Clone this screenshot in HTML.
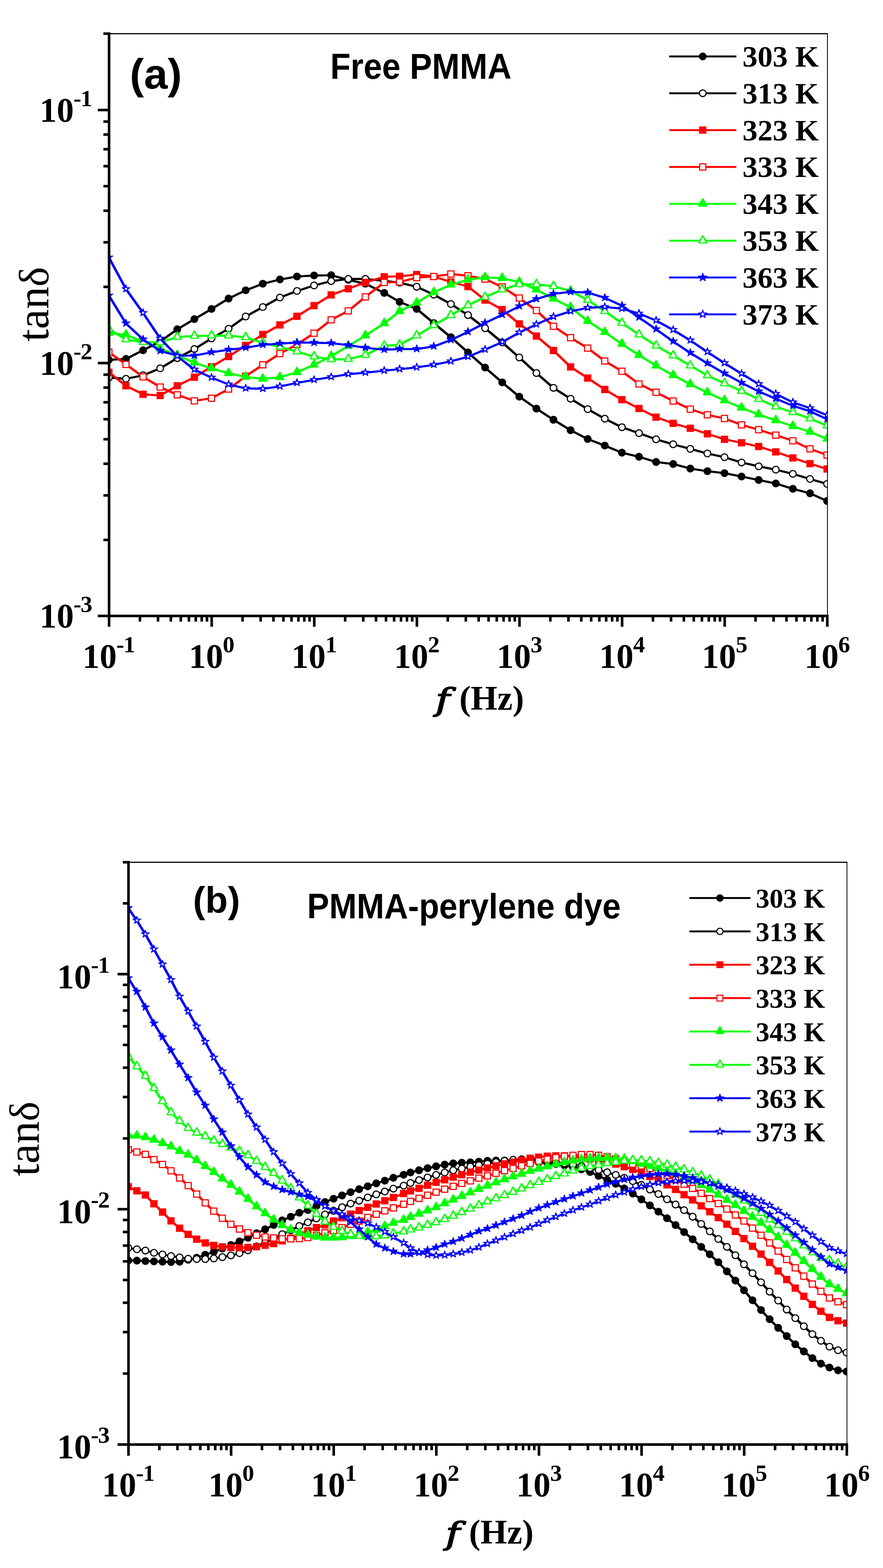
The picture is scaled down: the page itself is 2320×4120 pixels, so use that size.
<!DOCTYPE html>
<html><head><meta charset="utf-8"><title>tan delta vs f</title><style>
html,body{margin:0;padding:0;background:#fff;}
svg{display:block;}
text{font-family:"Liberation Serif",serif;font-weight:bold;fill:#000;}
.tk{font-size:90px;}
.sup{font-size:62px;}
.yt{font-size:118px;font-weight:normal;}
.dl{font-size:110px;}
.supn{letter-spacing:-2px;}
.xt{font-size:90px;}
.fi{font-family:"DejaVu Serif","Liberation Serif",serif;font-style:italic;font-weight:normal;stroke:#000;stroke-width:3px;stroke-linejoin:round;}
.pl,.tt{font-family:"Liberation Sans",sans-serif;font-weight:bold;}
</style></head><body>
<svg width="2320" height="4120" viewBox="0 0 2320 4120">
<rect width="2320" height="4120" fill="#fff"/>
<defs><circle id="cf" cy="-0.1" r="10.3" fill="#000"/><g id="co"><circle cy="-0.1" r="10.3" fill="#000"/><circle cy="-0.1" r="7.3" fill="#fff"/></g><rect id="sf" x="-9.6" y="-9.6" width="19.1" height="19.1" fill="#f00"/><g id="so"><rect x="-9.6" y="-9.6" width="19.1" height="19.1" fill="#f00"/><rect x="-6.7" y="-6.7" width="13.3" height="13.3" fill="#fff"/></g><path id="tf" d="M-1.2 -14.7 L1.2 -14.7 L8.6 -1.7 L10.4 3.2 L11.6 3.2 L11.6 7.4 L-11.6 7.4 L-11.6 3.2 L-10.4 3.2 L-8.6 -1.7 Z" fill="#0f0"/><g id="to"><path d="M-1.2 -14.7 L1.2 -14.7 L8.6 -1.7 L10.4 3.2 L11.6 3.2 L11.6 7.4 L-11.6 7.4 L-11.6 3.2 L-10.4 3.2 L-8.6 -1.7 Z" fill="#0f0"/><path d="M0 -9.6 L7.6 4.6 L-7.6 4.6 Z" fill="#fff"/></g><polygon id="xf" points="0,-11.4 2.6,-3.8 11.1,-3.7 4.3,1 6.9,8.7 0,4 -6.9,8.7 -4.3,1 -11.1,-3.7 -2.6,-3.8" fill="#00f" stroke="#00f" stroke-width="2.2" stroke-linejoin="round"/><g id="xo"><polygon points="0,-11.4 2.6,-3.8 11.1,-3.7 4.3,1 6.9,8.7 0,4 -6.9,8.7 -4.3,1 -11.1,-3.7 -2.6,-3.8" fill="#00f" stroke="#00f" stroke-width="2.2" stroke-linejoin="round"/><polygon points="0,-6.3 1.5,-2.2 6,-2.1 2.4,0.4 3.7,4.5 0,2.1 -3.7,4.5 -2.4,0.4 -6,-2.1 -1.5,-2.2" fill="#fff"/></g></defs>
<defs><circle id="cfb" cy="-0.1" r="9.8" fill="#000"/><g id="cob"><circle cy="-0.1" r="9.8" fill="#000"/><circle cy="-0.1" r="6.9" fill="#fff"/></g><rect id="sfb" x="-9.1" y="-9.1" width="18.1" height="18.1" fill="#f00"/><g id="sob"><rect x="-9.1" y="-9.1" width="18.1" height="18.1" fill="#f00"/><rect x="-6.3" y="-6.3" width="12.6" height="12.6" fill="#fff"/></g><path id="tfb" d="M-1.1 -14 L1.1 -14 L8.2 -1.6 L9.9 3 L11 3 L11 7 L-11 7 L-11 3 L-9.9 3 L-8.2 -1.6 Z" fill="#0f0"/><g id="tob"><path d="M-1.1 -14 L1.1 -14 L8.2 -1.6 L9.9 3 L11 3 L11 7 L-11 7 L-11 3 L-9.9 3 L-8.2 -1.6 Z" fill="#0f0"/><path d="M0 -9.1 L7.2 4.4 L-7.2 4.4 Z" fill="#fff"/></g><polygon id="xfb" points="0,-10.8 2.5,-3.6 10.6,-3.5 4.1,1 6.5,8.3 0,3.8 -6.5,8.3 -4.1,1 -10.6,-3.5 -2.5,-3.6" fill="#00f" stroke="#00f" stroke-width="2.1" stroke-linejoin="round"/><g id="xob"><polygon points="0,-10.8 2.5,-3.6 10.6,-3.5 4.1,1 6.5,8.3 0,3.8 -6.5,8.3 -4.1,1 -10.6,-3.5 -2.5,-3.6" fill="#00f" stroke="#00f" stroke-width="2.1" stroke-linejoin="round"/><polygon points="0,-6 1.4,-2.1 5.7,-2 2.3,0.4 3.5,4.3 0,2 -3.5,4.3 -2.3,0.4 -5.7,-2 -1.4,-2.1" fill="#fff"/></g></defs>
<defs><polygon id="xfd" points="0,-11.2 2.5,-4 10.5,-3.9 4,0.5 6.5,7.7 0,3.3 -6.5,7.7 -4,0.5 -10.5,-3.9 -2.5,-4" fill="#00f" stroke="#00f" stroke-width="2.1" stroke-linejoin="round"/><g id="xod"><polygon points="0,-11.2 2.5,-4 10.5,-3.9 4,0.5 6.5,7.7 0,3.3 -6.5,7.7 -4,0.5 -10.5,-3.9 -2.5,-4" fill="#00f" stroke="#00f" stroke-width="2.1" stroke-linejoin="round"/><polygon points="0,-5.3 1.2,-2.2 4.6,-2.1 1.9,-0.1 2.9,3.1 0,1.2 -2.9,3.1 -1.9,-0.1 -4.6,-2.1 -1.2,-2.2" fill="#fff"/></g></defs>
<clipPath id="clip0"><rect x="286.6" y="88.4" width="1887" height="1530"/></clipPath>
<g clip-path="url(#clip0)">
<g fill="none" stroke="#000" stroke-linejoin="round"><defs><polyline id="p0_0" points="286.1,945.5 331,943.2 376,920.3 420.9,897.2 465.8,865.2 510.7,838.6 555.7,811.8 600.6,784.5 645.5,762.8 690.5,745.6 735.4,734.4 780.3,726.6 825.2,723.9 870.2,723.2 915.1,735.3 960,745.6 1009.5,769.7 1049.9,793.2 1094.8,811.8 1139.7,849 1184.7,886.2 1229.6,926.2 1274.5,965.8 1319.5,1004.8 1364.4,1042.3 1409.3,1073.7 1454.2,1103 1499.2,1130.5 1544.1,1153.6 1589,1170.9 1634,1189.5 1678.9,1200.2 1723.8,1214 1768.7,1219.2 1813.7,1231.2 1858.6,1238.1 1903.5,1243.3 1948.4,1252.1 1993.4,1261.2 2038.3,1270.4 2083.2,1284.5 2128.2,1296.2 2173.1,1316.5"/></defs><use href="#p0_0" stroke-width="5"/>
<use href="#p0_0" transform="translate(0.9 0)" stroke-width="5"/>
<use href="#p0_0" transform="translate(-0.9 0)" stroke-width="5"/>
</g>
<use href="#cf" x="286.1" y="945.5"/>
<use href="#cf" x="331" y="943.2"/>
<use href="#cf" x="376" y="920.3"/>
<use href="#cf" x="420.9" y="897.2"/>
<use href="#cf" x="465.8" y="865.2"/>
<use href="#cf" x="510.7" y="838.6"/>
<use href="#cf" x="555.7" y="811.8"/>
<use href="#cf" x="600.6" y="784.5"/>
<use href="#cf" x="645.5" y="762.8"/>
<use href="#cf" x="690.5" y="745.6"/>
<use href="#cf" x="735.4" y="734.4"/>
<use href="#cf" x="780.3" y="726.6"/>
<use href="#cf" x="825.2" y="723.9"/>
<use href="#cf" x="870.2" y="723.2"/>
<use href="#cf" x="915.1" y="735.3"/>
<use href="#cf" x="960" y="745.6"/>
<use href="#cf" x="1009.5" y="769.7"/>
<use href="#cf" x="1049.9" y="793.2"/>
<use href="#cf" x="1094.8" y="811.8"/>
<use href="#cf" x="1139.7" y="849"/>
<use href="#cf" x="1184.7" y="886.2"/>
<use href="#cf" x="1229.6" y="926.2"/>
<use href="#cf" x="1274.5" y="965.8"/>
<use href="#cf" x="1319.5" y="1004.8"/>
<use href="#cf" x="1364.4" y="1042.3"/>
<use href="#cf" x="1409.3" y="1073.7"/>
<use href="#cf" x="1454.2" y="1103"/>
<use href="#cf" x="1499.2" y="1130.5"/>
<use href="#cf" x="1544.1" y="1153.6"/>
<use href="#cf" x="1589" y="1170.9"/>
<use href="#cf" x="1634" y="1189.5"/>
<use href="#cf" x="1678.9" y="1200.2"/>
<use href="#cf" x="1723.8" y="1214"/>
<use href="#cf" x="1768.7" y="1219.2"/>
<use href="#cf" x="1813.7" y="1231.2"/>
<use href="#cf" x="1858.6" y="1238.1"/>
<use href="#cf" x="1903.5" y="1243.3"/>
<use href="#cf" x="1948.4" y="1252.1"/>
<use href="#cf" x="1993.4" y="1261.2"/>
<use href="#cf" x="2038.3" y="1270.4"/>
<use href="#cf" x="2083.2" y="1284.5"/>
<use href="#cf" x="2128.2" y="1296.2"/>
<use href="#cf" x="2173.1" y="1316.5"/>
<g fill="none" stroke="#000" stroke-linejoin="round"><defs><polyline id="p0_1" points="286.1,992 331,995.4 376,986.1 420.9,967.9 465.8,941 510.7,917.2 555.7,889.3 600.6,863.8 645.5,831.7 690.5,806.9 735.4,781.8 780.3,764.6 825.2,750.1 870.2,738.7 915.1,732.9 960,732.9 1009.5,738 1049.9,742.8 1094.8,753.5 1139.7,774.2 1184.7,798.9 1229.6,828 1274.5,862.5 1319.5,899.7 1364.4,939.3 1409.3,980.3 1454.2,1019.2 1499.2,1047.8 1544.1,1075.1 1589,1100.2 1634,1122.7 1678.9,1138.2 1723.8,1154.4 1768.7,1167.5 1813.7,1179.5 1858.6,1191.6 1903.5,1201.3 1948.4,1215.3 1993.4,1225.3 2038.3,1234.1 2083.2,1245.1 2128.2,1258.6 2173.1,1271.6"/></defs><use href="#p0_1" stroke-width="5"/>
<use href="#p0_1" transform="translate(0.9 0)" stroke-width="5"/>
<use href="#p0_1" transform="translate(-0.9 0)" stroke-width="5"/>
</g>
<use href="#co" x="286.1" y="992"/>
<use href="#co" x="331" y="995.4"/>
<use href="#co" x="376" y="986.1"/>
<use href="#co" x="420.9" y="967.9"/>
<use href="#co" x="465.8" y="941"/>
<use href="#co" x="510.7" y="917.2"/>
<use href="#co" x="555.7" y="889.3"/>
<use href="#co" x="600.6" y="863.8"/>
<use href="#co" x="645.5" y="831.7"/>
<use href="#co" x="690.5" y="806.9"/>
<use href="#co" x="735.4" y="781.8"/>
<use href="#co" x="780.3" y="764.6"/>
<use href="#co" x="825.2" y="750.1"/>
<use href="#co" x="870.2" y="738.7"/>
<use href="#co" x="915.1" y="732.9"/>
<use href="#co" x="960" y="732.9"/>
<use href="#co" x="1009.5" y="738"/>
<use href="#co" x="1049.9" y="742.8"/>
<use href="#co" x="1094.8" y="753.5"/>
<use href="#co" x="1139.7" y="774.2"/>
<use href="#co" x="1184.7" y="798.9"/>
<use href="#co" x="1229.6" y="828"/>
<use href="#co" x="1274.5" y="862.5"/>
<use href="#co" x="1319.5" y="899.7"/>
<use href="#co" x="1364.4" y="939.3"/>
<use href="#co" x="1409.3" y="980.3"/>
<use href="#co" x="1454.2" y="1019.2"/>
<use href="#co" x="1499.2" y="1047.8"/>
<use href="#co" x="1544.1" y="1075.1"/>
<use href="#co" x="1589" y="1100.2"/>
<use href="#co" x="1634" y="1122.7"/>
<use href="#co" x="1678.9" y="1138.2"/>
<use href="#co" x="1723.8" y="1154.4"/>
<use href="#co" x="1768.7" y="1167.5"/>
<use href="#co" x="1813.7" y="1179.5"/>
<use href="#co" x="1858.6" y="1191.6"/>
<use href="#co" x="1903.5" y="1201.3"/>
<use href="#co" x="1948.4" y="1215.3"/>
<use href="#co" x="1993.4" y="1225.3"/>
<use href="#co" x="2038.3" y="1234.1"/>
<use href="#co" x="2083.2" y="1245.1"/>
<use href="#co" x="2128.2" y="1258.6"/>
<use href="#co" x="2173.1" y="1271.6"/>
<g fill="none" stroke="#f00" stroke-linejoin="round"><defs><polyline id="p0_2" points="286.1,978.2 331,1013.7 376,1036.1 420.9,1039.2 465.8,1013.7 510.7,991.3 555.7,963.7 600.6,936.8 645.5,907.6 690.5,879 735.4,853.8 780.3,831.1 825.2,803.1 870.2,774.9 915.1,758.7 960,742.2 1009.5,727.3 1049.9,726 1094.8,721.5 1139.7,726.6 1184.7,740.8 1229.6,752.9 1274.5,788.4 1319.5,813.5 1364.4,851.1 1409.3,883.1 1454.2,921 1499.2,964.1 1544.1,993.4 1589,1023.4 1634,1050.3 1678.9,1073.4 1723.8,1096.2 1768.7,1112.4 1813.7,1125.4 1858.6,1139.9 1903.5,1154.4 1948.4,1163.4 1993.4,1173.3 2038.3,1187.4 2083.2,1203.2 2128.2,1218.3 2173.1,1232.3"/></defs><use href="#p0_2" stroke-width="5"/>
<use href="#p0_2" transform="translate(0.9 0)" stroke-width="5"/>
<use href="#p0_2" transform="translate(-0.9 0)" stroke-width="5"/>
</g>
<use href="#sf" x="286.1" y="978.2"/>
<use href="#sf" x="331" y="1013.7"/>
<use href="#sf" x="376" y="1036.1"/>
<use href="#sf" x="420.9" y="1039.2"/>
<use href="#sf" x="465.8" y="1013.7"/>
<use href="#sf" x="510.7" y="991.3"/>
<use href="#sf" x="555.7" y="963.7"/>
<use href="#sf" x="600.6" y="936.8"/>
<use href="#sf" x="645.5" y="907.6"/>
<use href="#sf" x="690.5" y="879"/>
<use href="#sf" x="735.4" y="853.8"/>
<use href="#sf" x="780.3" y="831.1"/>
<use href="#sf" x="825.2" y="803.1"/>
<use href="#sf" x="870.2" y="774.9"/>
<use href="#sf" x="915.1" y="758.7"/>
<use href="#sf" x="960" y="742.2"/>
<use href="#sf" x="1009.5" y="727.3"/>
<use href="#sf" x="1049.9" y="726"/>
<use href="#sf" x="1094.8" y="721.5"/>
<use href="#sf" x="1139.7" y="726.6"/>
<use href="#sf" x="1184.7" y="740.8"/>
<use href="#sf" x="1229.6" y="752.9"/>
<use href="#sf" x="1274.5" y="788.4"/>
<use href="#sf" x="1319.5" y="813.5"/>
<use href="#sf" x="1364.4" y="851.1"/>
<use href="#sf" x="1409.3" y="883.1"/>
<use href="#sf" x="1454.2" y="921"/>
<use href="#sf" x="1499.2" y="964.1"/>
<use href="#sf" x="1544.1" y="993.4"/>
<use href="#sf" x="1589" y="1023.4"/>
<use href="#sf" x="1634" y="1050.3"/>
<use href="#sf" x="1678.9" y="1073.4"/>
<use href="#sf" x="1723.8" y="1096.2"/>
<use href="#sf" x="1768.7" y="1112.4"/>
<use href="#sf" x="1813.7" y="1125.4"/>
<use href="#sf" x="1858.6" y="1139.9"/>
<use href="#sf" x="1903.5" y="1154.4"/>
<use href="#sf" x="1948.4" y="1163.4"/>
<use href="#sf" x="1993.4" y="1173.3"/>
<use href="#sf" x="2038.3" y="1187.4"/>
<use href="#sf" x="2083.2" y="1203.2"/>
<use href="#sf" x="2128.2" y="1218.3"/>
<use href="#sf" x="2173.1" y="1232.3"/>
<g fill="none" stroke="#f00" stroke-linejoin="round"><defs><polyline id="p0_3" points="286.1,925.5 331,957.5 376,990.3 420.9,1017.1 465.8,1037.5 510.7,1053.3 555.7,1046.4 600.6,1022.3 645.5,988.5 690.5,958.6 735.4,929.1 780.3,905.1 825.2,875.5 870.2,840.4 915.1,816.9 960,780.1 1009.5,742.2 1049.9,741.1 1094.8,729.4 1139.7,726.6 1184.7,720.1 1229.6,724.6 1274.5,733.2 1319.5,753.9 1364.4,783.2 1409.3,815.9 1454.2,857.3 1499.2,887.3 1544.1,914.8 1589,948.6 1634,975.5 1678.9,1009 1723.8,1030.7 1768.7,1053.8 1813.7,1075.1 1858.6,1090 1903.5,1099.6 1948.4,1116.4 1993.4,1129.1 2038.3,1143.4 2083.2,1158.2 2128.2,1179.4 2173.1,1195.9"/></defs><use href="#p0_3" stroke-width="5"/>
<use href="#p0_3" transform="translate(0.9 0)" stroke-width="5"/>
<use href="#p0_3" transform="translate(-0.9 0)" stroke-width="5"/>
</g>
<use href="#so" x="286.1" y="925.5"/>
<use href="#so" x="331" y="957.5"/>
<use href="#so" x="376" y="990.3"/>
<use href="#so" x="420.9" y="1017.1"/>
<use href="#so" x="465.8" y="1037.5"/>
<use href="#so" x="510.7" y="1053.3"/>
<use href="#so" x="555.7" y="1046.4"/>
<use href="#so" x="600.6" y="1022.3"/>
<use href="#so" x="645.5" y="988.5"/>
<use href="#so" x="690.5" y="958.6"/>
<use href="#so" x="735.4" y="929.1"/>
<use href="#so" x="780.3" y="905.1"/>
<use href="#so" x="825.2" y="875.5"/>
<use href="#so" x="870.2" y="840.4"/>
<use href="#so" x="915.1" y="816.9"/>
<use href="#so" x="960" y="780.1"/>
<use href="#so" x="1009.5" y="742.2"/>
<use href="#so" x="1049.9" y="741.1"/>
<use href="#so" x="1094.8" y="729.4"/>
<use href="#so" x="1139.7" y="726.6"/>
<use href="#so" x="1184.7" y="720.1"/>
<use href="#so" x="1229.6" y="724.6"/>
<use href="#so" x="1274.5" y="733.2"/>
<use href="#so" x="1319.5" y="753.9"/>
<use href="#so" x="1364.4" y="783.2"/>
<use href="#so" x="1409.3" y="815.9"/>
<use href="#so" x="1454.2" y="857.3"/>
<use href="#so" x="1499.2" y="887.3"/>
<use href="#so" x="1544.1" y="914.8"/>
<use href="#so" x="1589" y="948.6"/>
<use href="#so" x="1634" y="975.5"/>
<use href="#so" x="1678.9" y="1009"/>
<use href="#so" x="1723.8" y="1030.7"/>
<use href="#so" x="1768.7" y="1053.8"/>
<use href="#so" x="1813.7" y="1075.1"/>
<use href="#so" x="1858.6" y="1090"/>
<use href="#so" x="1903.5" y="1099.6"/>
<use href="#so" x="1948.4" y="1116.4"/>
<use href="#so" x="1993.4" y="1129.1"/>
<use href="#so" x="2038.3" y="1143.4"/>
<use href="#so" x="2083.2" y="1158.2"/>
<use href="#so" x="2128.2" y="1179.4"/>
<use href="#so" x="2173.1" y="1195.9"/>
<g fill="none" stroke="#0f0" stroke-linejoin="round"><defs><polyline id="p0_4" points="286.1,875 331,880.1 376,897.4 420.9,916.3 465.8,933.6 510.7,953.2 555.7,968 600.6,980.8 645.5,990.4 690.5,995.6 735.4,991.4 780.3,978.4 825.2,958.4 870.2,936 915.1,909.4 960,881.9 1009.5,849.8 1049.9,818.1 1094.8,795.7 1139.7,768.2 1184.7,748.2 1229.6,735.1 1274.5,728.9 1319.5,731 1364.4,741.3 1409.3,761 1454.2,785.1 1499.2,807.5 1544.1,843.7 1589,872.9 1634,904 1678.9,933.3 1723.8,960.9 1768.7,986 1813.7,1009.8 1858.6,1031.5 1903.5,1052.2 1948.4,1071.6 1993.4,1089.3 2038.3,1104.8 2083.2,1120 2128.2,1135 2173.1,1153.2"/></defs><use href="#p0_4" stroke-width="5"/>
<use href="#p0_4" transform="translate(0.9 0)" stroke-width="5"/>
<use href="#p0_4" transform="translate(-0.9 0)" stroke-width="5"/>
</g>
<use href="#tf" x="286.1" y="875"/>
<use href="#tf" x="331" y="880.1"/>
<use href="#tf" x="376" y="897.4"/>
<use href="#tf" x="420.9" y="916.3"/>
<use href="#tf" x="465.8" y="933.6"/>
<use href="#tf" x="510.7" y="953.2"/>
<use href="#tf" x="555.7" y="968"/>
<use href="#tf" x="600.6" y="980.8"/>
<use href="#tf" x="645.5" y="990.4"/>
<use href="#tf" x="690.5" y="995.6"/>
<use href="#tf" x="735.4" y="991.4"/>
<use href="#tf" x="780.3" y="978.4"/>
<use href="#tf" x="825.2" y="958.4"/>
<use href="#tf" x="870.2" y="936"/>
<use href="#tf" x="915.1" y="909.4"/>
<use href="#tf" x="960" y="881.9"/>
<use href="#tf" x="1009.5" y="849.8"/>
<use href="#tf" x="1049.9" y="818.1"/>
<use href="#tf" x="1094.8" y="795.7"/>
<use href="#tf" x="1139.7" y="768.2"/>
<use href="#tf" x="1184.7" y="748.2"/>
<use href="#tf" x="1229.6" y="735.1"/>
<use href="#tf" x="1274.5" y="728.9"/>
<use href="#tf" x="1319.5" y="731"/>
<use href="#tf" x="1364.4" y="741.3"/>
<use href="#tf" x="1409.3" y="761"/>
<use href="#tf" x="1454.2" y="785.1"/>
<use href="#tf" x="1499.2" y="807.5"/>
<use href="#tf" x="1544.1" y="843.7"/>
<use href="#tf" x="1589" y="872.9"/>
<use href="#tf" x="1634" y="904"/>
<use href="#tf" x="1678.9" y="933.3"/>
<use href="#tf" x="1723.8" y="960.9"/>
<use href="#tf" x="1768.7" y="986"/>
<use href="#tf" x="1813.7" y="1009.8"/>
<use href="#tf" x="1858.6" y="1031.5"/>
<use href="#tf" x="1903.5" y="1052.2"/>
<use href="#tf" x="1948.4" y="1071.6"/>
<use href="#tf" x="1993.4" y="1089.3"/>
<use href="#tf" x="2038.3" y="1104.8"/>
<use href="#tf" x="2083.2" y="1120"/>
<use href="#tf" x="2128.2" y="1135"/>
<use href="#tf" x="2173.1" y="1153.2"/>
<g fill="none" stroke="#0f0" stroke-linejoin="round"><defs><polyline id="p0_5" points="286.1,864.6 331,892.2 376,899.1 420.9,899.8 465.8,885.3 510.7,882.9 555.7,881.9 600.6,881.9 645.5,886.3 690.5,900.8 735.4,911.2 780.3,923.9 825.2,937 870.2,944.6 915.1,943.9 960,932.9 1009.5,908.7 1049.9,906 1094.8,881.9 1139.7,855 1184.7,828.3 1229.6,802.3 1274.5,780.6 1319.5,761 1364.4,747.2 1409.3,747.2 1454.2,752.3 1499.2,764.4 1544.1,788.5 1589,817.8 1634,848.9 1678.9,879.2 1723.8,908.5 1768.7,934.4 1813.7,960.9 1858.6,986.7 1903.5,1007.4 1948.4,1027.8 1993.4,1048.8 2038.3,1068.6 2083.2,1083.6 2128.2,1099.9 2173.1,1118.5"/></defs><use href="#p0_5" stroke-width="5"/>
<use href="#p0_5" transform="translate(0.9 0)" stroke-width="5"/>
<use href="#p0_5" transform="translate(-0.9 0)" stroke-width="5"/>
</g>
<use href="#to" x="286.1" y="864.6"/>
<use href="#to" x="331" y="892.2"/>
<use href="#to" x="376" y="899.1"/>
<use href="#to" x="420.9" y="899.8"/>
<use href="#to" x="465.8" y="885.3"/>
<use href="#to" x="510.7" y="882.9"/>
<use href="#to" x="555.7" y="881.9"/>
<use href="#to" x="600.6" y="881.9"/>
<use href="#to" x="645.5" y="886.3"/>
<use href="#to" x="690.5" y="900.8"/>
<use href="#to" x="735.4" y="911.2"/>
<use href="#to" x="780.3" y="923.9"/>
<use href="#to" x="825.2" y="937"/>
<use href="#to" x="870.2" y="944.6"/>
<use href="#to" x="915.1" y="943.9"/>
<use href="#to" x="960" y="932.9"/>
<use href="#to" x="1009.5" y="908.7"/>
<use href="#to" x="1049.9" y="906"/>
<use href="#to" x="1094.8" y="881.9"/>
<use href="#to" x="1139.7" y="855"/>
<use href="#to" x="1184.7" y="828.3"/>
<use href="#to" x="1229.6" y="802.3"/>
<use href="#to" x="1274.5" y="780.6"/>
<use href="#to" x="1319.5" y="761"/>
<use href="#to" x="1364.4" y="747.2"/>
<use href="#to" x="1409.3" y="747.2"/>
<use href="#to" x="1454.2" y="752.3"/>
<use href="#to" x="1499.2" y="764.4"/>
<use href="#to" x="1544.1" y="788.5"/>
<use href="#to" x="1589" y="817.8"/>
<use href="#to" x="1634" y="848.9"/>
<use href="#to" x="1678.9" y="879.2"/>
<use href="#to" x="1723.8" y="908.5"/>
<use href="#to" x="1768.7" y="934.4"/>
<use href="#to" x="1813.7" y="960.9"/>
<use href="#to" x="1858.6" y="986.7"/>
<use href="#to" x="1903.5" y="1007.4"/>
<use href="#to" x="1948.4" y="1027.8"/>
<use href="#to" x="1993.4" y="1048.8"/>
<use href="#to" x="2038.3" y="1068.6"/>
<use href="#to" x="2083.2" y="1083.6"/>
<use href="#to" x="2128.2" y="1099.9"/>
<use href="#to" x="2173.1" y="1118.5"/>
<g fill="none" stroke="#00f" stroke-linejoin="round"><defs><polyline id="p0_6" points="286.1,776.7 331,850 376,892 420.9,922.3 465.8,934.4 510.7,934.4 555.7,925.8 600.6,918.9 645.5,913.7 690.5,906.1 735.4,903 780.3,899.9 825.2,900.6 870.2,901.7 915.1,906.8 960,913.7 1009.5,918.9 1049.9,917.2 1094.8,917.2 1139.7,910.3 1184.7,893.4 1229.6,872.1 1274.5,848.6 1319.5,827.3 1364.4,804.9 1409.3,785.9 1454.2,772.1 1499.2,767 1544.1,768.7 1589,782.5 1634,803.2 1678.9,834.2 1723.8,865.2 1768.7,897.3 1813.7,927.3 1858.6,954.8 1903.5,981.4 1948.4,1005.9 1993.4,1028.5 2038.3,1047.8 2083.2,1066 2128.2,1080.7 2173.1,1101.4"/></defs><use href="#p0_6" stroke-width="5"/>
<use href="#p0_6" transform="translate(0.9 0)" stroke-width="5"/>
<use href="#p0_6" transform="translate(-0.9 0)" stroke-width="5"/>
</g>
<use href="#xfd" x="286.1" y="776.7"/>
<use href="#xfd" x="331" y="850"/>
<use href="#xfd" x="376" y="892"/>
<use href="#xfd" x="420.9" y="922.3"/>
<use href="#xfd" x="465.8" y="934.4"/>
<use href="#xfd" x="510.7" y="934.4"/>
<use href="#xfd" x="555.7" y="925.8"/>
<use href="#xfd" x="600.6" y="918.9"/>
<use href="#xfd" x="645.5" y="913.7"/>
<use href="#xfd" x="690.5" y="906.1"/>
<use href="#xfd" x="735.4" y="903"/>
<use href="#xfd" x="780.3" y="899.9"/>
<use href="#xfd" x="825.2" y="900.6"/>
<use href="#xfd" x="870.2" y="901.7"/>
<use href="#xfd" x="915.1" y="906.8"/>
<use href="#xfd" x="960" y="913.7"/>
<use href="#xfd" x="1009.5" y="918.9"/>
<use href="#xfd" x="1049.9" y="917.2"/>
<use href="#xfd" x="1094.8" y="917.2"/>
<use href="#xfd" x="1139.7" y="910.3"/>
<use href="#xfd" x="1184.7" y="893.4"/>
<use href="#xfd" x="1229.6" y="872.1"/>
<use href="#xfd" x="1274.5" y="848.6"/>
<use href="#xfd" x="1319.5" y="827.3"/>
<use href="#xfd" x="1364.4" y="804.9"/>
<use href="#xfd" x="1409.3" y="785.9"/>
<use href="#xfd" x="1454.2" y="772.1"/>
<use href="#xfd" x="1499.2" y="767"/>
<use href="#xfd" x="1544.1" y="768.7"/>
<use href="#xfd" x="1589" y="782.5"/>
<use href="#xfd" x="1634" y="803.2"/>
<use href="#xfd" x="1678.9" y="834.2"/>
<use href="#xfd" x="1723.8" y="865.2"/>
<use href="#xfd" x="1768.7" y="897.3"/>
<use href="#xfd" x="1813.7" y="927.3"/>
<use href="#xfd" x="1858.6" y="954.8"/>
<use href="#xfd" x="1903.5" y="981.4"/>
<use href="#xfd" x="1948.4" y="1005.9"/>
<use href="#xfd" x="1993.4" y="1028.5"/>
<use href="#xfd" x="2038.3" y="1047.8"/>
<use href="#xfd" x="2083.2" y="1066"/>
<use href="#xfd" x="2128.2" y="1080.7"/>
<use href="#xfd" x="2173.1" y="1101.4"/>
<g fill="none" stroke="#00f" stroke-linejoin="round"><defs><polyline id="p0_7" points="286.1,676.6 331,759.7 376,822.4 420.9,889.6 465.8,936.1 510.7,971.3 555.7,992.3 600.6,1010.2 645.5,1020.5 690.5,1021.6 735.4,1015.4 780.3,1006.1 825.2,998.2 870.2,990.6 915.1,983.3 960,979.2 1009.5,974 1049.9,969.9 1094.8,965.4 1139.7,958.5 1184.7,949.4 1229.6,937.5 1274.5,918.6 1319.5,899 1364.4,873.8 1409.3,852.4 1454.2,832.4 1499.2,818 1544.1,809 1589,806.6 1634,811.1 1678.9,823.9 1723.8,842.2 1768.7,867 1813.7,894.5 1858.6,924.9 1903.5,954.2 1948.4,982 1993.4,1009.3 2038.3,1035 2083.2,1057.2 2128.2,1072.5 2173.1,1091.1"/></defs><use href="#p0_7" stroke-width="5"/>
<use href="#p0_7" transform="translate(0.9 0)" stroke-width="5"/>
<use href="#p0_7" transform="translate(-0.9 0)" stroke-width="5"/>
</g>
<use href="#xod" x="286.1" y="676.6"/>
<use href="#xod" x="331" y="759.7"/>
<use href="#xod" x="376" y="822.4"/>
<use href="#xod" x="420.9" y="889.6"/>
<use href="#xod" x="465.8" y="936.1"/>
<use href="#xod" x="510.7" y="971.3"/>
<use href="#xod" x="555.7" y="992.3"/>
<use href="#xod" x="600.6" y="1010.2"/>
<use href="#xod" x="645.5" y="1020.5"/>
<use href="#xod" x="690.5" y="1021.6"/>
<use href="#xod" x="735.4" y="1015.4"/>
<use href="#xod" x="780.3" y="1006.1"/>
<use href="#xod" x="825.2" y="998.2"/>
<use href="#xod" x="870.2" y="990.6"/>
<use href="#xod" x="915.1" y="983.3"/>
<use href="#xod" x="960" y="979.2"/>
<use href="#xod" x="1009.5" y="974"/>
<use href="#xod" x="1049.9" y="969.9"/>
<use href="#xod" x="1094.8" y="965.4"/>
<use href="#xod" x="1139.7" y="958.5"/>
<use href="#xod" x="1184.7" y="949.4"/>
<use href="#xod" x="1229.6" y="937.5"/>
<use href="#xod" x="1274.5" y="918.6"/>
<use href="#xod" x="1319.5" y="899"/>
<use href="#xod" x="1364.4" y="873.8"/>
<use href="#xod" x="1409.3" y="852.4"/>
<use href="#xod" x="1454.2" y="832.4"/>
<use href="#xod" x="1499.2" y="818"/>
<use href="#xod" x="1544.1" y="809"/>
<use href="#xod" x="1589" y="806.6"/>
<use href="#xod" x="1634" y="811.1"/>
<use href="#xod" x="1678.9" y="823.9"/>
<use href="#xod" x="1723.8" y="842.2"/>
<use href="#xod" x="1768.7" y="867"/>
<use href="#xod" x="1813.7" y="894.5"/>
<use href="#xod" x="1858.6" y="924.9"/>
<use href="#xod" x="1903.5" y="954.2"/>
<use href="#xod" x="1948.4" y="982"/>
<use href="#xod" x="1993.4" y="1009.3"/>
<use href="#xod" x="2038.3" y="1035"/>
<use href="#xod" x="2083.2" y="1057.2"/>
<use href="#xod" x="2128.2" y="1072.5"/>
<use href="#xod" x="2173.1" y="1091.1"/>
</g>
<rect x="286.6" y="87" width="1888.5" height="3" fill="#000"/>
<rect x="2173" y="87" width="2.1" height="1531.5" fill="#000"/>
<rect x="283.2" y="85" width="6.8" height="1536.8" fill="#000"/>
<rect x="283.2" y="1615" width="1893.8" height="6.8" fill="#000"/>
<rect x="283.2" y="1618.4" width="6.8" height="28.4" fill="#000"/>
<text x="216.8" y="1755.1" class="tk">10<tspan class="sup supn" dx="-1" dy="-41">-1</tspan></text>
<rect x="364.3" y="1618.4" width="6.8" height="14.9" fill="#000"/>
<rect x="411.8" y="1618.4" width="6.8" height="14.9" fill="#000"/>
<rect x="445.5" y="1618.4" width="6.8" height="14.9" fill="#000"/>
<rect x="471.6" y="1618.4" width="6.8" height="14.9" fill="#000"/>
<rect x="493" y="1618.4" width="6.8" height="14.9" fill="#000"/>
<rect x="511" y="1618.4" width="6.8" height="14.9" fill="#000"/>
<rect x="526.6" y="1618.4" width="6.8" height="14.9" fill="#000"/>
<rect x="540.4" y="1618.4" width="6.8" height="14.9" fill="#000"/>
<rect x="552.8" y="1618.4" width="6.8" height="28.4" fill="#000"/>
<text x="496.2" y="1755.1" class="tk">10<tspan class="sup" dx="-1" dy="-41">0</tspan></text>
<rect x="633.9" y="1618.4" width="6.8" height="14.9" fill="#000"/>
<rect x="681.4" y="1618.4" width="6.8" height="14.9" fill="#000"/>
<rect x="715.1" y="1618.4" width="6.8" height="14.9" fill="#000"/>
<rect x="741.2" y="1618.4" width="6.8" height="14.9" fill="#000"/>
<rect x="762.5" y="1618.4" width="6.8" height="14.9" fill="#000"/>
<rect x="780.6" y="1618.4" width="6.8" height="14.9" fill="#000"/>
<rect x="796.2" y="1618.4" width="6.8" height="14.9" fill="#000"/>
<rect x="810" y="1618.4" width="6.8" height="14.9" fill="#000"/>
<rect x="822.3" y="1618.4" width="6.8" height="28.4" fill="#000"/>
<text x="765.7" y="1755.1" class="tk">10<tspan class="sup" dx="-1" dy="-41">1</tspan></text>
<rect x="903.5" y="1618.4" width="6.8" height="14.9" fill="#000"/>
<rect x="951" y="1618.4" width="6.8" height="14.9" fill="#000"/>
<rect x="984.6" y="1618.4" width="6.8" height="14.9" fill="#000"/>
<rect x="1010.8" y="1618.4" width="6.8" height="14.9" fill="#000"/>
<rect x="1032.1" y="1618.4" width="6.8" height="14.9" fill="#000"/>
<rect x="1050.2" y="1618.4" width="6.8" height="14.9" fill="#000"/>
<rect x="1065.8" y="1618.4" width="6.8" height="14.9" fill="#000"/>
<rect x="1079.6" y="1618.4" width="6.8" height="14.9" fill="#000"/>
<rect x="1091.9" y="1618.4" width="6.8" height="28.4" fill="#000"/>
<text x="1035.3" y="1755.1" class="tk">10<tspan class="sup" dx="-1" dy="-41">2</tspan></text>
<rect x="1173.1" y="1618.4" width="6.8" height="14.9" fill="#000"/>
<rect x="1220.5" y="1618.4" width="6.8" height="14.9" fill="#000"/>
<rect x="1254.2" y="1618.4" width="6.8" height="14.9" fill="#000"/>
<rect x="1280.3" y="1618.4" width="6.8" height="14.9" fill="#000"/>
<rect x="1301.7" y="1618.4" width="6.8" height="14.9" fill="#000"/>
<rect x="1319.7" y="1618.4" width="6.8" height="14.9" fill="#000"/>
<rect x="1335.4" y="1618.4" width="6.8" height="14.9" fill="#000"/>
<rect x="1349.2" y="1618.4" width="6.8" height="14.9" fill="#000"/>
<rect x="1361.5" y="1618.4" width="6.8" height="28.4" fill="#000"/>
<text x="1304.9" y="1755.1" class="tk">10<tspan class="sup" dx="-1" dy="-41">3</tspan></text>
<rect x="1442.6" y="1618.4" width="6.8" height="14.9" fill="#000"/>
<rect x="1490.1" y="1618.4" width="6.8" height="14.9" fill="#000"/>
<rect x="1523.8" y="1618.4" width="6.8" height="14.9" fill="#000"/>
<rect x="1549.9" y="1618.4" width="6.8" height="14.9" fill="#000"/>
<rect x="1571.3" y="1618.4" width="6.8" height="14.9" fill="#000"/>
<rect x="1589.3" y="1618.4" width="6.8" height="14.9" fill="#000"/>
<rect x="1604.9" y="1618.4" width="6.8" height="14.9" fill="#000"/>
<rect x="1618.7" y="1618.4" width="6.8" height="14.9" fill="#000"/>
<rect x="1631.1" y="1618.4" width="6.8" height="28.4" fill="#000"/>
<text x="1574.5" y="1755.1" class="tk">10<tspan class="sup" dx="-1" dy="-41">4</tspan></text>
<rect x="1712.2" y="1618.4" width="6.8" height="14.9" fill="#000"/>
<rect x="1759.7" y="1618.4" width="6.8" height="14.9" fill="#000"/>
<rect x="1793.4" y="1618.4" width="6.8" height="14.9" fill="#000"/>
<rect x="1819.5" y="1618.4" width="6.8" height="14.9" fill="#000"/>
<rect x="1840.8" y="1618.4" width="6.8" height="14.9" fill="#000"/>
<rect x="1858.9" y="1618.4" width="6.8" height="14.9" fill="#000"/>
<rect x="1874.5" y="1618.4" width="6.8" height="14.9" fill="#000"/>
<rect x="1888.3" y="1618.4" width="6.8" height="14.9" fill="#000"/>
<rect x="1900.6" y="1618.4" width="6.8" height="28.4" fill="#000"/>
<text x="1844" y="1755.1" class="tk">10<tspan class="sup" dx="-1" dy="-41">5</tspan></text>
<rect x="1981.8" y="1618.4" width="6.8" height="14.9" fill="#000"/>
<rect x="2029.2" y="1618.4" width="6.8" height="14.9" fill="#000"/>
<rect x="2062.9" y="1618.4" width="6.8" height="14.9" fill="#000"/>
<rect x="2089.1" y="1618.4" width="6.8" height="14.9" fill="#000"/>
<rect x="2110.4" y="1618.4" width="6.8" height="14.9" fill="#000"/>
<rect x="2128.4" y="1618.4" width="6.8" height="14.9" fill="#000"/>
<rect x="2144.1" y="1618.4" width="6.8" height="14.9" fill="#000"/>
<rect x="2157.9" y="1618.4" width="6.8" height="14.9" fill="#000"/>
<rect x="2170.2" y="1618.4" width="6.8" height="28.4" fill="#000"/>
<text x="2113.6" y="1755.1" class="tk">10<tspan class="sup" dx="-1" dy="-41">6</tspan></text>
<rect x="256.9" y="1615" width="29.7" height="6.8" fill="#000"/>
<text x="104" y="1649.4" class="tk">10<tspan class="sup supn" dx="-1" dy="-41">-3</tspan></text>
<rect x="271.7" y="1415.3" width="14.9" height="6.8" fill="#000"/>
<rect x="271.7" y="1298.3" width="14.9" height="6.8" fill="#000"/>
<rect x="271.7" y="1215.2" width="14.9" height="6.8" fill="#000"/>
<rect x="271.7" y="1150.7" width="14.9" height="6.8" fill="#000"/>
<rect x="271.7" y="1098.1" width="14.9" height="6.8" fill="#000"/>
<rect x="271.7" y="1053.6" width="14.9" height="6.8" fill="#000"/>
<rect x="271.7" y="1015" width="14.9" height="6.8" fill="#000"/>
<rect x="271.7" y="981" width="14.9" height="6.8" fill="#000"/>
<rect x="256.9" y="950.6" width="29.7" height="6.8" fill="#000"/>
<text x="104" y="984.5" class="tk">10<tspan class="sup supn" dx="-1" dy="-41">-2</tspan></text>
<rect x="271.7" y="750.4" width="14.9" height="6.8" fill="#000"/>
<rect x="271.7" y="633.3" width="14.9" height="6.8" fill="#000"/>
<rect x="271.7" y="550.3" width="14.9" height="6.8" fill="#000"/>
<rect x="271.7" y="485.8" width="14.9" height="6.8" fill="#000"/>
<rect x="271.7" y="433.2" width="14.9" height="6.8" fill="#000"/>
<rect x="271.7" y="388.7" width="14.9" height="6.8" fill="#000"/>
<rect x="271.7" y="350.1" width="14.9" height="6.8" fill="#000"/>
<rect x="271.7" y="316.1" width="14.9" height="6.8" fill="#000"/>
<rect x="256.9" y="285.7" width="29.7" height="6.8" fill="#000"/>
<text x="104" y="319.6" class="tk">10<tspan class="sup supn" dx="-1" dy="-41">-1</tspan></text>
<rect x="271.7" y="85" width="14.9" height="6.8" fill="#000"/>
<text transform="translate(126.5 897.5) rotate(-90)" class="yt">tan<tspan class="dl">δ</tspan></text>
<text transform="translate(1144.4 1866.3) scale(1.14 0.888)" class="xt fi">f </text><text x="1206.9" y="1864.8" class="xt">(Hz)</text>
<text x="341" y="232.5" class="pl" style="font-size:112px">(a)</text>
<text transform="translate(867.7 207.1) scale(0.9305 1)" class="tt" style="font-size:94px">Free PMMA</text>
<rect x="1758.2" y="145.8" width="176.5" height="5" fill="#000"/>
<use href="#cf" x="1846.4" y="148.3"/>
<text x="1950.8" y="174.9" class="lg" style="font-size:79.3px">303 K</text>
<rect x="1758.2" y="242.6" width="176.5" height="5" fill="#000"/>
<use href="#co" x="1846.4" y="245.1"/>
<text x="1950.8" y="271.7" class="lg" style="font-size:79.3px">313 K</text>
<rect x="1758.2" y="339.4" width="176.5" height="5" fill="#f00"/>
<use href="#sf" x="1846.4" y="341.9"/>
<text x="1950.8" y="368.5" class="lg" style="font-size:79.3px">323 K</text>
<rect x="1758.2" y="436.2" width="176.5" height="5" fill="#f00"/>
<use href="#so" x="1846.4" y="438.8"/>
<text x="1950.8" y="465.3" class="lg" style="font-size:79.3px">333 K</text>
<rect x="1758.2" y="533" width="176.5" height="5" fill="#0f0"/>
<use href="#tf" x="1846.4" y="535.5"/>
<text x="1950.8" y="562.1" class="lg" style="font-size:79.3px">343 K</text>
<rect x="1758.2" y="629.9" width="176.5" height="5" fill="#0f0"/>
<use href="#to" x="1846.4" y="632.4"/>
<text x="1950.8" y="658.9" class="lg" style="font-size:79.3px">353 K</text>
<rect x="1758.2" y="726.6" width="176.5" height="5" fill="#00f"/>
<use href="#xf" x="1846.4" y="729.1"/>
<text x="1950.8" y="755.7" class="lg" style="font-size:79.3px">363 K</text>
<rect x="1758.2" y="823.5" width="176.5" height="5" fill="#00f"/>
<use href="#xo" x="1846.4" y="826"/>
<text x="1950.8" y="852.5" class="lg" style="font-size:79.3px">373 K</text>
<clipPath id="clip1"><rect x="337.6" y="2265.6" width="1887.3" height="1530"/></clipPath>
<g clip-path="url(#clip1)">
<g fill="none" stroke="#000" stroke-linejoin="round"><defs><polyline id="p1_0" points="337.1,3311.8 359.6,3312.5 382,3313.6 404.5,3314.3 427,3315.3 449.4,3316 471.9,3315.3 494.4,3310.1 516.8,3305 539.3,3297 561.8,3289.4 584.2,3280.8 606.7,3271.5 629.2,3261.9 651.6,3252.2 674.1,3240.5 696.6,3230.2 719,3218.8 741.5,3206.7 764,3197.1 786.4,3186.6 808.9,3179.5 831.4,3168.8 853.8,3158.4 876.3,3149.8 898.8,3141.2 921.2,3132.6 943.7,3124.7 966.2,3117.1 988.6,3109.5 1011.1,3102.3 1033.6,3094.7 1060.5,3086.8 1078.5,3080.9 1101,3075 1123.4,3069.5 1145.9,3064.7 1168.4,3060.2 1190.8,3056.8 1213.3,3055.1 1235.8,3054.2 1258.2,3052.6 1280.7,3050.2 1303.2,3049.5 1325.6,3049.5 1348.1,3050.2 1370.6,3051.2 1393,3052.6 1415.5,3054.3 1438,3056.4 1460.4,3058.8 1482.9,3062.3 1505.4,3066.7 1527.8,3072.6 1550.3,3079.5 1572.8,3089.8 1595.2,3100.2 1617.7,3110.5 1640.2,3122.6 1662.6,3136.3 1685.1,3151.5 1707.6,3167.5 1730,3183.9 1752.5,3201.1 1775,3219.1 1797.4,3237.3 1819.9,3256.3 1842.4,3276.3 1864.8,3295.9 1887.3,3316.6 1909.8,3340.7 1932.2,3364.8 1954.7,3390.2 1977.2,3416.6 1999.6,3442.4 2022.1,3466.4 2044.6,3489 2067,3510.7 2089.5,3532.4 2112,3551 2134.4,3568.6 2156.9,3583.1 2179.4,3593.4 2201.8,3600.7 2224.3,3603.8"/></defs><use href="#p1_0" stroke-width="5"/>
<use href="#p1_0" transform="translate(0.9 0)" stroke-width="5"/>
<use href="#p1_0" transform="translate(-0.9 0)" stroke-width="5"/>
</g>
<use href="#cf" x="337.1" y="3311.8"/>
<use href="#cf" x="359.6" y="3312.5"/>
<use href="#cf" x="382" y="3313.6"/>
<use href="#cf" x="404.5" y="3314.3"/>
<use href="#cf" x="427" y="3315.3"/>
<use href="#cf" x="449.4" y="3316"/>
<use href="#cf" x="471.9" y="3315.3"/>
<use href="#cf" x="494.4" y="3310.1"/>
<use href="#cf" x="516.8" y="3305"/>
<use href="#cf" x="539.3" y="3297"/>
<use href="#cf" x="561.8" y="3289.4"/>
<use href="#cf" x="584.2" y="3280.8"/>
<use href="#cf" x="606.7" y="3271.5"/>
<use href="#cf" x="629.2" y="3261.9"/>
<use href="#cf" x="651.6" y="3252.2"/>
<use href="#cf" x="674.1" y="3240.5"/>
<use href="#cf" x="696.6" y="3230.2"/>
<use href="#cf" x="719" y="3218.8"/>
<use href="#cf" x="741.5" y="3206.7"/>
<use href="#cf" x="764" y="3197.1"/>
<use href="#cf" x="786.4" y="3186.6"/>
<use href="#cf" x="808.9" y="3179.5"/>
<use href="#cf" x="831.4" y="3168.8"/>
<use href="#cf" x="853.8" y="3158.4"/>
<use href="#cf" x="876.3" y="3149.8"/>
<use href="#cf" x="898.8" y="3141.2"/>
<use href="#cf" x="921.2" y="3132.6"/>
<use href="#cf" x="943.7" y="3124.7"/>
<use href="#cf" x="966.2" y="3117.1"/>
<use href="#cf" x="988.6" y="3109.5"/>
<use href="#cf" x="1011.1" y="3102.3"/>
<use href="#cf" x="1033.6" y="3094.7"/>
<use href="#cf" x="1060.5" y="3086.8"/>
<use href="#cf" x="1078.5" y="3080.9"/>
<use href="#cf" x="1101" y="3075"/>
<use href="#cf" x="1123.4" y="3069.5"/>
<use href="#cf" x="1145.9" y="3064.7"/>
<use href="#cf" x="1168.4" y="3060.2"/>
<use href="#cf" x="1190.8" y="3056.8"/>
<use href="#cf" x="1213.3" y="3055.1"/>
<use href="#cf" x="1235.8" y="3054.2"/>
<use href="#cf" x="1258.2" y="3052.6"/>
<use href="#cf" x="1280.7" y="3050.2"/>
<use href="#cf" x="1303.2" y="3049.5"/>
<use href="#cf" x="1325.6" y="3049.5"/>
<use href="#cf" x="1348.1" y="3050.2"/>
<use href="#cf" x="1370.6" y="3051.2"/>
<use href="#cf" x="1393" y="3052.6"/>
<use href="#cf" x="1415.5" y="3054.3"/>
<use href="#cf" x="1438" y="3056.4"/>
<use href="#cf" x="1460.4" y="3058.8"/>
<use href="#cf" x="1482.9" y="3062.3"/>
<use href="#cf" x="1505.4" y="3066.7"/>
<use href="#cf" x="1527.8" y="3072.6"/>
<use href="#cf" x="1550.3" y="3079.5"/>
<use href="#cf" x="1572.8" y="3089.8"/>
<use href="#cf" x="1595.2" y="3100.2"/>
<use href="#cf" x="1617.7" y="3110.5"/>
<use href="#cf" x="1640.2" y="3122.6"/>
<use href="#cf" x="1662.6" y="3136.3"/>
<use href="#cf" x="1685.1" y="3151.5"/>
<use href="#cf" x="1707.6" y="3167.5"/>
<use href="#cf" x="1730" y="3183.9"/>
<use href="#cf" x="1752.5" y="3201.1"/>
<use href="#cf" x="1775" y="3219.1"/>
<use href="#cf" x="1797.4" y="3237.3"/>
<use href="#cf" x="1819.9" y="3256.3"/>
<use href="#cf" x="1842.4" y="3276.3"/>
<use href="#cf" x="1864.8" y="3295.9"/>
<use href="#cf" x="1887.3" y="3316.6"/>
<use href="#cf" x="1909.8" y="3340.7"/>
<use href="#cf" x="1932.2" y="3364.8"/>
<use href="#cf" x="1954.7" y="3390.2"/>
<use href="#cf" x="1977.2" y="3416.6"/>
<use href="#cf" x="1999.6" y="3442.4"/>
<use href="#cf" x="2022.1" y="3466.4"/>
<use href="#cf" x="2044.6" y="3489"/>
<use href="#cf" x="2067" y="3510.7"/>
<use href="#cf" x="2089.5" y="3532.4"/>
<use href="#cf" x="2112" y="3551"/>
<use href="#cf" x="2134.4" y="3568.6"/>
<use href="#cf" x="2156.9" y="3583.1"/>
<use href="#cf" x="2179.4" y="3593.4"/>
<use href="#cf" x="2201.8" y="3600.7"/>
<use href="#cf" x="2224.3" y="3603.8"/>
<g fill="none" stroke="#000" stroke-linejoin="round"><defs><polyline id="p1_1" points="337.1,3279.1 359.6,3282.6 382,3286 404.5,3291.9 427,3296.3 449.4,3300.5 471.9,3303.9 494.4,3307.4 516.8,3308.4 539.3,3308.4 561.8,3306.7 584.2,3303.2 606.7,3298.8 629.2,3292.9 651.6,3285.3 674.1,3275 696.6,3265.3 719,3255 741.5,3242.9 764,3232.6 786.4,3221.4 808.9,3211.9 831.4,3201.5 853.8,3191.2 876.3,3181.5 898.8,3172.2 921.2,3162.6 943.7,3155 966.2,3146.4 988.6,3138.4 1011.1,3130.9 1033.6,3123.3 1060.5,3115.4 1078.5,3108.5 1101,3100.9 1123.4,3094 1145.9,3087.1 1168.4,3080.9 1190.8,3075 1213.3,3070.6 1235.8,3065.5 1258.2,3061.8 1280.7,3057.8 1303.2,3053.6 1325.6,3050.2 1348.1,3047.4 1370.6,3046.1 1393,3046.7 1415.5,3048.5 1438,3050.9 1460.4,3053.6 1482.9,3057.1 1505.4,3060.5 1527.8,3064 1550.3,3069.1 1572.8,3074.3 1595.2,3080.5 1617.7,3087.1 1640.2,3095 1662.6,3103.6 1685.1,3113.3 1707.6,3125.7 1730,3137.4 1752.5,3151.2 1775,3165 1797.4,3179.8 1819.9,3197 1842.4,3216 1864.8,3235.6 1887.3,3255.6 1909.8,3276.3 1932.2,3298.3 1954.7,3322.2 1977.2,3345.6 1999.6,3369.5 2022.1,3394 2044.6,3417.4 2067,3441 2089.5,3463.6 2112,3484.9 2134.4,3505.6 2156.9,3523.1 2179.4,3538.6 2201.8,3547.9 2224.3,3554.1"/></defs><use href="#p1_1" stroke-width="5"/>
<use href="#p1_1" transform="translate(0.9 0)" stroke-width="5"/>
<use href="#p1_1" transform="translate(-0.9 0)" stroke-width="5"/>
</g>
<use href="#co" x="337.1" y="3279.1"/>
<use href="#co" x="359.6" y="3282.6"/>
<use href="#co" x="382" y="3286"/>
<use href="#co" x="404.5" y="3291.9"/>
<use href="#co" x="427" y="3296.3"/>
<use href="#co" x="449.4" y="3300.5"/>
<use href="#co" x="471.9" y="3303.9"/>
<use href="#co" x="494.4" y="3307.4"/>
<use href="#co" x="516.8" y="3308.4"/>
<use href="#co" x="539.3" y="3308.4"/>
<use href="#co" x="561.8" y="3306.7"/>
<use href="#co" x="584.2" y="3303.2"/>
<use href="#co" x="606.7" y="3298.8"/>
<use href="#co" x="629.2" y="3292.9"/>
<use href="#co" x="651.6" y="3285.3"/>
<use href="#co" x="674.1" y="3275"/>
<use href="#co" x="696.6" y="3265.3"/>
<use href="#co" x="719" y="3255"/>
<use href="#co" x="741.5" y="3242.9"/>
<use href="#co" x="764" y="3232.6"/>
<use href="#co" x="786.4" y="3221.4"/>
<use href="#co" x="808.9" y="3211.9"/>
<use href="#co" x="831.4" y="3201.5"/>
<use href="#co" x="853.8" y="3191.2"/>
<use href="#co" x="876.3" y="3181.5"/>
<use href="#co" x="898.8" y="3172.2"/>
<use href="#co" x="921.2" y="3162.6"/>
<use href="#co" x="943.7" y="3155"/>
<use href="#co" x="966.2" y="3146.4"/>
<use href="#co" x="988.6" y="3138.4"/>
<use href="#co" x="1011.1" y="3130.9"/>
<use href="#co" x="1033.6" y="3123.3"/>
<use href="#co" x="1060.5" y="3115.4"/>
<use href="#co" x="1078.5" y="3108.5"/>
<use href="#co" x="1101" y="3100.9"/>
<use href="#co" x="1123.4" y="3094"/>
<use href="#co" x="1145.9" y="3087.1"/>
<use href="#co" x="1168.4" y="3080.9"/>
<use href="#co" x="1190.8" y="3075"/>
<use href="#co" x="1213.3" y="3070.6"/>
<use href="#co" x="1235.8" y="3065.5"/>
<use href="#co" x="1258.2" y="3061.8"/>
<use href="#co" x="1280.7" y="3057.8"/>
<use href="#co" x="1303.2" y="3053.6"/>
<use href="#co" x="1325.6" y="3050.2"/>
<use href="#co" x="1348.1" y="3047.4"/>
<use href="#co" x="1370.6" y="3046.1"/>
<use href="#co" x="1393" y="3046.7"/>
<use href="#co" x="1415.5" y="3048.5"/>
<use href="#co" x="1438" y="3050.9"/>
<use href="#co" x="1460.4" y="3053.6"/>
<use href="#co" x="1482.9" y="3057.1"/>
<use href="#co" x="1505.4" y="3060.5"/>
<use href="#co" x="1527.8" y="3064"/>
<use href="#co" x="1550.3" y="3069.1"/>
<use href="#co" x="1572.8" y="3074.3"/>
<use href="#co" x="1595.2" y="3080.5"/>
<use href="#co" x="1617.7" y="3087.1"/>
<use href="#co" x="1640.2" y="3095"/>
<use href="#co" x="1662.6" y="3103.6"/>
<use href="#co" x="1685.1" y="3113.3"/>
<use href="#co" x="1707.6" y="3125.7"/>
<use href="#co" x="1730" y="3137.4"/>
<use href="#co" x="1752.5" y="3151.2"/>
<use href="#co" x="1775" y="3165"/>
<use href="#co" x="1797.4" y="3179.8"/>
<use href="#co" x="1819.9" y="3197"/>
<use href="#co" x="1842.4" y="3216"/>
<use href="#co" x="1864.8" y="3235.6"/>
<use href="#co" x="1887.3" y="3255.6"/>
<use href="#co" x="1909.8" y="3276.3"/>
<use href="#co" x="1932.2" y="3298.3"/>
<use href="#co" x="1954.7" y="3322.2"/>
<use href="#co" x="1977.2" y="3345.6"/>
<use href="#co" x="1999.6" y="3369.5"/>
<use href="#co" x="2022.1" y="3394"/>
<use href="#co" x="2044.6" y="3417.4"/>
<use href="#co" x="2067" y="3441"/>
<use href="#co" x="2089.5" y="3463.6"/>
<use href="#co" x="2112" y="3484.9"/>
<use href="#co" x="2134.4" y="3505.6"/>
<use href="#co" x="2156.9" y="3523.1"/>
<use href="#co" x="2179.4" y="3538.6"/>
<use href="#co" x="2201.8" y="3547.9"/>
<use href="#co" x="2224.3" y="3554.1"/>
<g fill="none" stroke="#f00" stroke-linejoin="round"><defs><polyline id="p1_2" points="337.1,3118.3 359.6,3129 382,3140 404.5,3163.1 427,3184.8 449.4,3207.9 471.9,3227.2 494.4,3243.4 516.8,3256.1 539.3,3265.9 561.8,3272.5 584.2,3276.2 606.7,3278 629.2,3278.5 651.6,3278 674.1,3275.9 696.6,3272.1 719,3267.6 741.5,3260.4 764,3253 786.4,3244.2 808.9,3234 831.4,3225.6 853.8,3218.7 876.3,3208.4 898.8,3199.8 921.2,3190.1 943.7,3180.8 966.2,3172.2 988.6,3163.6 1011.1,3155 1033.6,3146.4 1060.5,3136 1078.5,3129.1 1101,3122.3 1123.4,3114.3 1145.9,3106.7 1168.4,3099.9 1190.8,3093 1213.3,3086.8 1235.8,3080 1258.2,3074.7 1280.7,3069.1 1303.2,3063.3 1325.6,3058.1 1348.1,3053.6 1370.6,3048.5 1393,3043.3 1415.5,3040.5 1438,3038.1 1460.4,3037.1 1482.9,3037.1 1505.4,3039.2 1527.8,3041.6 1550.3,3045 1572.8,3049.5 1595.2,3053.6 1617.7,3058.8 1640.2,3065.7 1662.6,3072.6 1685.1,3080.9 1707.6,3091.2 1730,3099.5 1752.5,3113.3 1775,3125.3 1797.4,3139.1 1819.9,3152.9 1842.4,3168.4 1864.8,3183.9 1887.3,3199.4 1909.8,3216.6 1932.2,3235.6 1954.7,3254.5 1977.2,3274.6 1999.6,3295.3 2022.1,3317 2044.6,3339.6 2067,3362.1 2089.5,3384.7 2112,3406.2 2134.4,3427.4 2156.9,3445.4 2179.4,3461.5 2201.8,3470.4 2224.3,3476.6"/></defs><use href="#p1_2" stroke-width="5"/>
<use href="#p1_2" transform="translate(0.9 0)" stroke-width="5"/>
<use href="#p1_2" transform="translate(-0.9 0)" stroke-width="5"/>
</g>
<use href="#sf" x="337.1" y="3118.3"/>
<use href="#sf" x="359.6" y="3129"/>
<use href="#sf" x="382" y="3140"/>
<use href="#sf" x="404.5" y="3163.1"/>
<use href="#sf" x="427" y="3184.8"/>
<use href="#sf" x="449.4" y="3207.9"/>
<use href="#sf" x="471.9" y="3227.2"/>
<use href="#sf" x="494.4" y="3243.4"/>
<use href="#sf" x="516.8" y="3256.1"/>
<use href="#sf" x="539.3" y="3265.9"/>
<use href="#sf" x="561.8" y="3272.5"/>
<use href="#sf" x="584.2" y="3276.2"/>
<use href="#sf" x="606.7" y="3278"/>
<use href="#sf" x="629.2" y="3278.5"/>
<use href="#sf" x="651.6" y="3278"/>
<use href="#sf" x="674.1" y="3275.9"/>
<use href="#sf" x="696.6" y="3272.1"/>
<use href="#sf" x="719" y="3267.6"/>
<use href="#sf" x="741.5" y="3260.4"/>
<use href="#sf" x="764" y="3253"/>
<use href="#sf" x="786.4" y="3244.2"/>
<use href="#sf" x="808.9" y="3234"/>
<use href="#sf" x="831.4" y="3225.6"/>
<use href="#sf" x="853.8" y="3218.7"/>
<use href="#sf" x="876.3" y="3208.4"/>
<use href="#sf" x="898.8" y="3199.8"/>
<use href="#sf" x="921.2" y="3190.1"/>
<use href="#sf" x="943.7" y="3180.8"/>
<use href="#sf" x="966.2" y="3172.2"/>
<use href="#sf" x="988.6" y="3163.6"/>
<use href="#sf" x="1011.1" y="3155"/>
<use href="#sf" x="1033.6" y="3146.4"/>
<use href="#sf" x="1060.5" y="3136"/>
<use href="#sf" x="1078.5" y="3129.1"/>
<use href="#sf" x="1101" y="3122.3"/>
<use href="#sf" x="1123.4" y="3114.3"/>
<use href="#sf" x="1145.9" y="3106.7"/>
<use href="#sf" x="1168.4" y="3099.9"/>
<use href="#sf" x="1190.8" y="3093"/>
<use href="#sf" x="1213.3" y="3086.8"/>
<use href="#sf" x="1235.8" y="3080"/>
<use href="#sf" x="1258.2" y="3074.7"/>
<use href="#sf" x="1280.7" y="3069.1"/>
<use href="#sf" x="1303.2" y="3063.3"/>
<use href="#sf" x="1325.6" y="3058.1"/>
<use href="#sf" x="1348.1" y="3053.6"/>
<use href="#sf" x="1370.6" y="3048.5"/>
<use href="#sf" x="1393" y="3043.3"/>
<use href="#sf" x="1415.5" y="3040.5"/>
<use href="#sf" x="1438" y="3038.1"/>
<use href="#sf" x="1460.4" y="3037.1"/>
<use href="#sf" x="1482.9" y="3037.1"/>
<use href="#sf" x="1505.4" y="3039.2"/>
<use href="#sf" x="1527.8" y="3041.6"/>
<use href="#sf" x="1550.3" y="3045"/>
<use href="#sf" x="1572.8" y="3049.5"/>
<use href="#sf" x="1595.2" y="3053.6"/>
<use href="#sf" x="1617.7" y="3058.8"/>
<use href="#sf" x="1640.2" y="3065.7"/>
<use href="#sf" x="1662.6" y="3072.6"/>
<use href="#sf" x="1685.1" y="3080.9"/>
<use href="#sf" x="1707.6" y="3091.2"/>
<use href="#sf" x="1730" y="3099.5"/>
<use href="#sf" x="1752.5" y="3113.3"/>
<use href="#sf" x="1775" y="3125.3"/>
<use href="#sf" x="1797.4" y="3139.1"/>
<use href="#sf" x="1819.9" y="3152.9"/>
<use href="#sf" x="1842.4" y="3168.4"/>
<use href="#sf" x="1864.8" y="3183.9"/>
<use href="#sf" x="1887.3" y="3199.4"/>
<use href="#sf" x="1909.8" y="3216.6"/>
<use href="#sf" x="1932.2" y="3235.6"/>
<use href="#sf" x="1954.7" y="3254.5"/>
<use href="#sf" x="1977.2" y="3274.6"/>
<use href="#sf" x="1999.6" y="3295.3"/>
<use href="#sf" x="2022.1" y="3317"/>
<use href="#sf" x="2044.6" y="3339.6"/>
<use href="#sf" x="2067" y="3362.1"/>
<use href="#sf" x="2089.5" y="3384.7"/>
<use href="#sf" x="2112" y="3406.2"/>
<use href="#sf" x="2134.4" y="3427.4"/>
<use href="#sf" x="2156.9" y="3445.4"/>
<use href="#sf" x="2179.4" y="3461.5"/>
<use href="#sf" x="2201.8" y="3470.4"/>
<use href="#sf" x="2224.3" y="3476.6"/>
<g fill="none" stroke="#f00" stroke-linejoin="round"><defs><polyline id="p1_3" points="337.1,3021.1 359.6,3027 382,3033.2 404.5,3047 427,3059.7 449.4,3076.3 471.9,3095.2 494.4,3115.2 516.8,3137.6 539.3,3160.7 561.8,3182.4 584.2,3201 606.7,3216.9 629.2,3229.4 651.6,3239 674.1,3245.6 696.6,3250.2 719,3252.8 741.5,3255.2 764,3255.2 786.4,3254.4 808.9,3251.7 831.4,3246.3 853.8,3239.4 876.3,3233.6 898.8,3225.6 921.2,3217 943.7,3208.4 966.2,3199.1 988.6,3190.5 1011.1,3181.5 1033.6,3173.9 1060.5,3164.3 1078.5,3156.7 1101,3148.8 1123.4,3140.5 1145.9,3132.6 1168.4,3124.7 1190.8,3117.1 1213.3,3109.5 1235.8,3102.8 1258.2,3095.9 1280.7,3089.8 1303.2,3082.9 1325.6,3076 1348.1,3070.2 1370.6,3063.3 1393,3057.1 1415.5,3050.9 1438,3046.1 1460.4,3041.6 1482.9,3038.1 1505.4,3035.7 1527.8,3033.7 1550.3,3033.7 1572.8,3035.7 1595.2,3039.2 1617.7,3045 1640.2,3050.9 1662.6,3058.8 1685.1,3063.6 1707.6,3070.5 1730,3078.8 1752.5,3089.1 1775,3099.5 1797.4,3111.5 1819.9,3122.6 1842.4,3135.7 1864.8,3149.4 1887.3,3162.5 1909.8,3177 1932.2,3192.5 1954.7,3208.3 1977.2,3227 1999.6,3245.8 2022.1,3265.8 2044.6,3287.4 2067,3309.4 2089.5,3331.3 2112,3353.2 2134.4,3373.9 2156.9,3393.1 2179.4,3410.5 2201.8,3420.4 2224.3,3428"/></defs><use href="#p1_3" stroke-width="5"/>
<use href="#p1_3" transform="translate(0.9 0)" stroke-width="5"/>
<use href="#p1_3" transform="translate(-0.9 0)" stroke-width="5"/>
</g>
<use href="#so" x="337.1" y="3021.1"/>
<use href="#so" x="359.6" y="3027"/>
<use href="#so" x="382" y="3033.2"/>
<use href="#so" x="404.5" y="3047"/>
<use href="#so" x="427" y="3059.7"/>
<use href="#so" x="449.4" y="3076.3"/>
<use href="#so" x="471.9" y="3095.2"/>
<use href="#so" x="494.4" y="3115.2"/>
<use href="#so" x="516.8" y="3137.6"/>
<use href="#so" x="539.3" y="3160.7"/>
<use href="#so" x="561.8" y="3182.4"/>
<use href="#so" x="584.2" y="3201"/>
<use href="#so" x="606.7" y="3216.9"/>
<use href="#so" x="629.2" y="3229.4"/>
<use href="#so" x="651.6" y="3239"/>
<use href="#so" x="674.1" y="3245.6"/>
<use href="#so" x="696.6" y="3250.2"/>
<use href="#so" x="719" y="3252.8"/>
<use href="#so" x="741.5" y="3255.2"/>
<use href="#so" x="764" y="3255.2"/>
<use href="#so" x="786.4" y="3254.4"/>
<use href="#so" x="808.9" y="3251.7"/>
<use href="#so" x="831.4" y="3246.3"/>
<use href="#so" x="853.8" y="3239.4"/>
<use href="#so" x="876.3" y="3233.6"/>
<use href="#so" x="898.8" y="3225.6"/>
<use href="#so" x="921.2" y="3217"/>
<use href="#so" x="943.7" y="3208.4"/>
<use href="#so" x="966.2" y="3199.1"/>
<use href="#so" x="988.6" y="3190.5"/>
<use href="#so" x="1011.1" y="3181.5"/>
<use href="#so" x="1033.6" y="3173.9"/>
<use href="#so" x="1060.5" y="3164.3"/>
<use href="#so" x="1078.5" y="3156.7"/>
<use href="#so" x="1101" y="3148.8"/>
<use href="#so" x="1123.4" y="3140.5"/>
<use href="#so" x="1145.9" y="3132.6"/>
<use href="#so" x="1168.4" y="3124.7"/>
<use href="#so" x="1190.8" y="3117.1"/>
<use href="#so" x="1213.3" y="3109.5"/>
<use href="#so" x="1235.8" y="3102.8"/>
<use href="#so" x="1258.2" y="3095.9"/>
<use href="#so" x="1280.7" y="3089.8"/>
<use href="#so" x="1303.2" y="3082.9"/>
<use href="#so" x="1325.6" y="3076"/>
<use href="#so" x="1348.1" y="3070.2"/>
<use href="#so" x="1370.6" y="3063.3"/>
<use href="#so" x="1393" y="3057.1"/>
<use href="#so" x="1415.5" y="3050.9"/>
<use href="#so" x="1438" y="3046.1"/>
<use href="#so" x="1460.4" y="3041.6"/>
<use href="#so" x="1482.9" y="3038.1"/>
<use href="#so" x="1505.4" y="3035.7"/>
<use href="#so" x="1527.8" y="3033.7"/>
<use href="#so" x="1550.3" y="3033.7"/>
<use href="#so" x="1572.8" y="3035.7"/>
<use href="#so" x="1595.2" y="3039.2"/>
<use href="#so" x="1617.7" y="3045"/>
<use href="#so" x="1640.2" y="3050.9"/>
<use href="#so" x="1662.6" y="3058.8"/>
<use href="#so" x="1685.1" y="3063.6"/>
<use href="#so" x="1707.6" y="3070.5"/>
<use href="#so" x="1730" y="3078.8"/>
<use href="#so" x="1752.5" y="3089.1"/>
<use href="#so" x="1775" y="3099.5"/>
<use href="#so" x="1797.4" y="3111.5"/>
<use href="#so" x="1819.9" y="3122.6"/>
<use href="#so" x="1842.4" y="3135.7"/>
<use href="#so" x="1864.8" y="3149.4"/>
<use href="#so" x="1887.3" y="3162.5"/>
<use href="#so" x="1909.8" y="3177"/>
<use href="#so" x="1932.2" y="3192.5"/>
<use href="#so" x="1954.7" y="3208.3"/>
<use href="#so" x="1977.2" y="3227"/>
<use href="#so" x="1999.6" y="3245.8"/>
<use href="#so" x="2022.1" y="3265.8"/>
<use href="#so" x="2044.6" y="3287.4"/>
<use href="#so" x="2067" y="3309.4"/>
<use href="#so" x="2089.5" y="3331.3"/>
<use href="#so" x="2112" y="3353.2"/>
<use href="#so" x="2134.4" y="3373.9"/>
<use href="#so" x="2156.9" y="3393.1"/>
<use href="#so" x="2179.4" y="3410.5"/>
<use href="#so" x="2201.8" y="3420.4"/>
<use href="#so" x="2224.3" y="3428"/>
<g fill="none" stroke="#0f0" stroke-linejoin="round"><defs><polyline id="p1_4" points="337.1,2984.4 359.6,2984.4 382,2988.6 404.5,2995.4 427,3004.1 449.4,3012.7 471.9,3024.7 494.4,3034.4 516.8,3048.9 539.3,3064.4 561.8,3079.9 584.2,3097.1 606.7,3113.6 629.2,3131.6 651.6,3150.5 674.1,3170.2 696.6,3188.4 719,3205 741.5,3219.4 764,3231.5 786.4,3239.8 808.9,3245 831.4,3249.9 853.8,3252.3 876.3,3252.3 898.8,3251.6 921.2,3248.2 943.7,3244.7 966.2,3237.8 988.6,3231 1011.1,3222.3 1033.6,3213.7 1060.5,3205.8 1078.5,3198.2 1101,3189.6 1123.4,3181 1145.9,3172.4 1168.4,3162 1190.8,3152.7 1213.3,3143.1 1235.8,3133.6 1258.2,3124.3 1280.7,3115.8 1303.2,3107.2 1325.6,3099.3 1348.1,3091.7 1370.6,3084.8 1393,3077.2 1415.5,3071 1438,3065.2 1460.4,3059.7 1482.9,3054.5 1505.4,3050.3 1527.8,3046.9 1550.3,3044.5 1572.8,3043.5 1595.2,3042.8 1617.7,3043.5 1640.2,3045.2 1662.6,3051.7 1685.1,3058.3 1707.6,3064.1 1730,3070.3 1752.5,3077.2 1775,3084.1 1797.4,3092.7 1819.9,3103.1 1842.4,3114.5 1864.8,3126.2 1887.3,3139.3 1909.8,3153 1932.2,3166.8 1954.7,3182.3 1977.2,3197.8 1999.6,3213.3 2022.1,3231.7 2044.6,3251 2067,3271.7 2089.5,3292.3 2112,3313.9 2134.4,3334.6 2156.9,3355.4 2179.4,3374.8 2201.8,3387.2 2224.3,3398.5"/></defs><use href="#p1_4" stroke-width="5"/>
<use href="#p1_4" transform="translate(0.9 0)" stroke-width="5"/>
<use href="#p1_4" transform="translate(-0.9 0)" stroke-width="5"/>
</g>
<use href="#tf" x="337.1" y="2984.4"/>
<use href="#tf" x="359.6" y="2984.4"/>
<use href="#tf" x="382" y="2988.6"/>
<use href="#tf" x="404.5" y="2995.4"/>
<use href="#tf" x="427" y="3004.1"/>
<use href="#tf" x="449.4" y="3012.7"/>
<use href="#tf" x="471.9" y="3024.7"/>
<use href="#tf" x="494.4" y="3034.4"/>
<use href="#tf" x="516.8" y="3048.9"/>
<use href="#tf" x="539.3" y="3064.4"/>
<use href="#tf" x="561.8" y="3079.9"/>
<use href="#tf" x="584.2" y="3097.1"/>
<use href="#tf" x="606.7" y="3113.6"/>
<use href="#tf" x="629.2" y="3131.6"/>
<use href="#tf" x="651.6" y="3150.5"/>
<use href="#tf" x="674.1" y="3170.2"/>
<use href="#tf" x="696.6" y="3188.4"/>
<use href="#tf" x="719" y="3205"/>
<use href="#tf" x="741.5" y="3219.4"/>
<use href="#tf" x="764" y="3231.5"/>
<use href="#tf" x="786.4" y="3239.8"/>
<use href="#tf" x="808.9" y="3245"/>
<use href="#tf" x="831.4" y="3249.9"/>
<use href="#tf" x="853.8" y="3252.3"/>
<use href="#tf" x="876.3" y="3252.3"/>
<use href="#tf" x="898.8" y="3251.6"/>
<use href="#tf" x="921.2" y="3248.2"/>
<use href="#tf" x="943.7" y="3244.7"/>
<use href="#tf" x="966.2" y="3237.8"/>
<use href="#tf" x="988.6" y="3231"/>
<use href="#tf" x="1011.1" y="3222.3"/>
<use href="#tf" x="1033.6" y="3213.7"/>
<use href="#tf" x="1060.5" y="3205.8"/>
<use href="#tf" x="1078.5" y="3198.2"/>
<use href="#tf" x="1101" y="3189.6"/>
<use href="#tf" x="1123.4" y="3181"/>
<use href="#tf" x="1145.9" y="3172.4"/>
<use href="#tf" x="1168.4" y="3162"/>
<use href="#tf" x="1190.8" y="3152.7"/>
<use href="#tf" x="1213.3" y="3143.1"/>
<use href="#tf" x="1235.8" y="3133.6"/>
<use href="#tf" x="1258.2" y="3124.3"/>
<use href="#tf" x="1280.7" y="3115.8"/>
<use href="#tf" x="1303.2" y="3107.2"/>
<use href="#tf" x="1325.6" y="3099.3"/>
<use href="#tf" x="1348.1" y="3091.7"/>
<use href="#tf" x="1370.6" y="3084.8"/>
<use href="#tf" x="1393" y="3077.2"/>
<use href="#tf" x="1415.5" y="3071"/>
<use href="#tf" x="1438" y="3065.2"/>
<use href="#tf" x="1460.4" y="3059.7"/>
<use href="#tf" x="1482.9" y="3054.5"/>
<use href="#tf" x="1505.4" y="3050.3"/>
<use href="#tf" x="1527.8" y="3046.9"/>
<use href="#tf" x="1550.3" y="3044.5"/>
<use href="#tf" x="1572.8" y="3043.5"/>
<use href="#tf" x="1595.2" y="3042.8"/>
<use href="#tf" x="1617.7" y="3043.5"/>
<use href="#tf" x="1640.2" y="3045.2"/>
<use href="#tf" x="1662.6" y="3051.7"/>
<use href="#tf" x="1685.1" y="3058.3"/>
<use href="#tf" x="1707.6" y="3064.1"/>
<use href="#tf" x="1730" y="3070.3"/>
<use href="#tf" x="1752.5" y="3077.2"/>
<use href="#tf" x="1775" y="3084.1"/>
<use href="#tf" x="1797.4" y="3092.7"/>
<use href="#tf" x="1819.9" y="3103.1"/>
<use href="#tf" x="1842.4" y="3114.5"/>
<use href="#tf" x="1864.8" y="3126.2"/>
<use href="#tf" x="1887.3" y="3139.3"/>
<use href="#tf" x="1909.8" y="3153"/>
<use href="#tf" x="1932.2" y="3166.8"/>
<use href="#tf" x="1954.7" y="3182.3"/>
<use href="#tf" x="1977.2" y="3197.8"/>
<use href="#tf" x="1999.6" y="3213.3"/>
<use href="#tf" x="2022.1" y="3231.7"/>
<use href="#tf" x="2044.6" y="3251"/>
<use href="#tf" x="2067" y="3271.7"/>
<use href="#tf" x="2089.5" y="3292.3"/>
<use href="#tf" x="2112" y="3313.9"/>
<use href="#tf" x="2134.4" y="3334.6"/>
<use href="#tf" x="2156.9" y="3355.4"/>
<use href="#tf" x="2179.4" y="3374.8"/>
<use href="#tf" x="2201.8" y="3387.2"/>
<use href="#tf" x="2224.3" y="3398.5"/>
<g fill="none" stroke="#0f0" stroke-linejoin="round"><defs><polyline id="p1_5" points="337.1,2776.3 359.6,2802.2 382,2827.3 404.5,2859.3 427,2893.8 449.4,2923.1 471.9,2945.5 494.4,2964.4 516.8,2976.5 539.3,2986.1 561.8,2997.2 584.2,3006.5 606.7,3016.1 629.2,3024.7 651.6,3035.8 674.1,3050.6 696.6,3066.8 719,3082.6 741.5,3102.3 764,3122.9 786.4,3146.8 808.9,3168.3 831.4,3189.6 853.8,3210.3 876.3,3224.1 898.8,3235.1 921.2,3243 943.7,3248.2 966.2,3249.9 988.6,3248.9 1011.1,3246.5 1033.6,3241.3 1060.5,3236.1 1078.5,3231 1101,3225.8 1123.4,3218.9 1145.9,3212 1168.4,3203.4 1190.8,3194.8 1213.3,3185.5 1235.8,3176 1258.2,3167.4 1280.7,3157.2 1303.2,3149.2 1325.6,3140.6 1348.1,3132 1370.6,3123.4 1393,3114.8 1415.5,3106.2 1438,3098.6 1460.4,3091 1482.9,3083.8 1505.4,3076.2 1527.8,3069.3 1550.3,3064.1 1572.8,3060.7 1595.2,3056.6 1617.7,3053.8 1640.2,3050.3 1662.6,3048.6 1685.1,3049.3 1707.6,3051.4 1730,3055.9 1752.5,3060.7 1775,3066.2 1797.4,3073.1 1819.9,3080.7 1842.4,3089.3 1864.8,3099.6 1887.3,3111.7 1909.8,3125.5 1932.2,3139.3 1954.7,3154.8 1977.2,3170.3 1999.6,3187.5 2022.1,3204.7 2044.6,3219.3 2067,3237.2 2089.5,3254.1 2112,3272.9 2134.4,3290.8 2156.9,3306.1 2179.4,3311.7 2201.8,3321 2224.3,3330.3"/></defs><use href="#p1_5" stroke-width="5"/>
<use href="#p1_5" transform="translate(0.9 0)" stroke-width="5"/>
<use href="#p1_5" transform="translate(-0.9 0)" stroke-width="5"/>
</g>
<use href="#to" x="337.1" y="2776.3"/>
<use href="#to" x="359.6" y="2802.2"/>
<use href="#to" x="382" y="2827.3"/>
<use href="#to" x="404.5" y="2859.3"/>
<use href="#to" x="427" y="2893.8"/>
<use href="#to" x="449.4" y="2923.1"/>
<use href="#to" x="471.9" y="2945.5"/>
<use href="#to" x="494.4" y="2964.4"/>
<use href="#to" x="516.8" y="2976.5"/>
<use href="#to" x="539.3" y="2986.1"/>
<use href="#to" x="561.8" y="2997.2"/>
<use href="#to" x="584.2" y="3006.5"/>
<use href="#to" x="606.7" y="3016.1"/>
<use href="#to" x="629.2" y="3024.7"/>
<use href="#to" x="651.6" y="3035.8"/>
<use href="#to" x="674.1" y="3050.6"/>
<use href="#to" x="696.6" y="3066.8"/>
<use href="#to" x="719" y="3082.6"/>
<use href="#to" x="741.5" y="3102.3"/>
<use href="#to" x="764" y="3122.9"/>
<use href="#to" x="786.4" y="3146.8"/>
<use href="#to" x="808.9" y="3168.3"/>
<use href="#to" x="831.4" y="3189.6"/>
<use href="#to" x="853.8" y="3210.3"/>
<use href="#to" x="876.3" y="3224.1"/>
<use href="#to" x="898.8" y="3235.1"/>
<use href="#to" x="921.2" y="3243"/>
<use href="#to" x="943.7" y="3248.2"/>
<use href="#to" x="966.2" y="3249.9"/>
<use href="#to" x="988.6" y="3248.9"/>
<use href="#to" x="1011.1" y="3246.5"/>
<use href="#to" x="1033.6" y="3241.3"/>
<use href="#to" x="1060.5" y="3236.1"/>
<use href="#to" x="1078.5" y="3231"/>
<use href="#to" x="1101" y="3225.8"/>
<use href="#to" x="1123.4" y="3218.9"/>
<use href="#to" x="1145.9" y="3212"/>
<use href="#to" x="1168.4" y="3203.4"/>
<use href="#to" x="1190.8" y="3194.8"/>
<use href="#to" x="1213.3" y="3185.5"/>
<use href="#to" x="1235.8" y="3176"/>
<use href="#to" x="1258.2" y="3167.4"/>
<use href="#to" x="1280.7" y="3157.2"/>
<use href="#to" x="1303.2" y="3149.2"/>
<use href="#to" x="1325.6" y="3140.6"/>
<use href="#to" x="1348.1" y="3132"/>
<use href="#to" x="1370.6" y="3123.4"/>
<use href="#to" x="1393" y="3114.8"/>
<use href="#to" x="1415.5" y="3106.2"/>
<use href="#to" x="1438" y="3098.6"/>
<use href="#to" x="1460.4" y="3091"/>
<use href="#to" x="1482.9" y="3083.8"/>
<use href="#to" x="1505.4" y="3076.2"/>
<use href="#to" x="1527.8" y="3069.3"/>
<use href="#to" x="1550.3" y="3064.1"/>
<use href="#to" x="1572.8" y="3060.7"/>
<use href="#to" x="1595.2" y="3056.6"/>
<use href="#to" x="1617.7" y="3053.8"/>
<use href="#to" x="1640.2" y="3050.3"/>
<use href="#to" x="1662.6" y="3048.6"/>
<use href="#to" x="1685.1" y="3049.3"/>
<use href="#to" x="1707.6" y="3051.4"/>
<use href="#to" x="1730" y="3055.9"/>
<use href="#to" x="1752.5" y="3060.7"/>
<use href="#to" x="1775" y="3066.2"/>
<use href="#to" x="1797.4" y="3073.1"/>
<use href="#to" x="1819.9" y="3080.7"/>
<use href="#to" x="1842.4" y="3089.3"/>
<use href="#to" x="1864.8" y="3099.6"/>
<use href="#to" x="1887.3" y="3111.7"/>
<use href="#to" x="1909.8" y="3125.5"/>
<use href="#to" x="1932.2" y="3139.3"/>
<use href="#to" x="1954.7" y="3154.8"/>
<use href="#to" x="1977.2" y="3170.3"/>
<use href="#to" x="1999.6" y="3187.5"/>
<use href="#to" x="2022.1" y="3204.7"/>
<use href="#to" x="2044.6" y="3219.3"/>
<use href="#to" x="2067" y="3237.2"/>
<use href="#to" x="2089.5" y="3254.1"/>
<use href="#to" x="2112" y="3272.9"/>
<use href="#to" x="2134.4" y="3290.8"/>
<use href="#to" x="2156.9" y="3306.1"/>
<use href="#to" x="2179.4" y="3311.7"/>
<use href="#to" x="2201.8" y="3321"/>
<use href="#to" x="2224.3" y="3330.3"/>
<g fill="none" stroke="#00f" stroke-linejoin="round"><defs><polyline id="p1_6" points="337.1,2570.4 359.6,2605.9 382,2646.9 404.5,2689.3 427,2725.5 449.4,2759.9 471.9,2797.2 494.4,2832.5 516.8,2870.5 539.3,2905 561.8,2941.2 584.2,2975.6 606.7,3011.8 629.2,3040.4 651.6,3066.9 674.1,3087.6 696.6,3106.6 719,3117.9 741.5,3126.5 764,3132.4 786.4,3138.7 808.9,3144.5 831.4,3156 853.8,3169.8 876.3,3181.8 898.8,3195.6 921.2,3211.1 943.7,3230.1 966.2,3250.8 988.6,3269.7 1011.1,3280 1033.6,3288.7 1060.5,3295.5 1078.5,3295.5 1101,3292.1 1123.4,3285.2 1145.9,3278.3 1168.4,3269.7 1190.8,3262.8 1213.3,3254.2 1235.8,3244.5 1258.2,3235.4 1280.7,3228.7 1303.2,3220 1325.6,3211.4 1348.1,3202.8 1370.6,3194.2 1393,3183.9 1415.5,3174.6 1438,3166.6 1460.4,3158.7 1482.9,3151.1 1505.4,3143.2 1527.8,3135.6 1550.3,3127.7 1572.8,3120.1 1595.2,3112.2 1617.7,3105.6 1640.2,3099.4 1662.6,3094.3 1685.1,3091 1707.6,3087.6 1730,3085 1752.5,3085 1775,3086.7 1797.4,3090.1 1819.9,3095.3 1842.4,3102.2 1864.8,3109.8 1887.3,3117.7 1909.8,3127 1932.2,3138.4 1954.7,3149.4 1977.2,3162.5 1999.6,3176.3 2022.1,3191.8 2044.6,3208.9 2067,3227.2 2089.5,3246.1 2112,3265.3 2134.4,3284.6 2156.9,3303.4 2179.4,3321.5 2201.8,3330.8 2224.3,3339.1"/></defs><use href="#p1_6" stroke-width="5"/>
<use href="#p1_6" transform="translate(0.9 0)" stroke-width="5"/>
<use href="#p1_6" transform="translate(-0.9 0)" stroke-width="5"/>
</g>
<use href="#xfd" x="337.1" y="2570.4"/>
<use href="#xfd" x="359.6" y="2605.9"/>
<use href="#xfd" x="382" y="2646.9"/>
<use href="#xfd" x="404.5" y="2689.3"/>
<use href="#xfd" x="427" y="2725.5"/>
<use href="#xfd" x="449.4" y="2759.9"/>
<use href="#xfd" x="471.9" y="2797.2"/>
<use href="#xfd" x="494.4" y="2832.5"/>
<use href="#xfd" x="516.8" y="2870.5"/>
<use href="#xfd" x="539.3" y="2905"/>
<use href="#xfd" x="561.8" y="2941.2"/>
<use href="#xfd" x="584.2" y="2975.6"/>
<use href="#xfd" x="606.7" y="3011.8"/>
<use href="#xfd" x="629.2" y="3040.4"/>
<use href="#xfd" x="651.6" y="3066.9"/>
<use href="#xfd" x="674.1" y="3087.6"/>
<use href="#xfd" x="696.6" y="3106.6"/>
<use href="#xfd" x="719" y="3117.9"/>
<use href="#xfd" x="741.5" y="3126.5"/>
<use href="#xfd" x="764" y="3132.4"/>
<use href="#xfd" x="786.4" y="3138.7"/>
<use href="#xfd" x="808.9" y="3144.5"/>
<use href="#xfd" x="831.4" y="3156"/>
<use href="#xfd" x="853.8" y="3169.8"/>
<use href="#xfd" x="876.3" y="3181.8"/>
<use href="#xfd" x="898.8" y="3195.6"/>
<use href="#xfd" x="921.2" y="3211.1"/>
<use href="#xfd" x="943.7" y="3230.1"/>
<use href="#xfd" x="966.2" y="3250.8"/>
<use href="#xfd" x="988.6" y="3269.7"/>
<use href="#xfd" x="1011.1" y="3280"/>
<use href="#xfd" x="1033.6" y="3288.7"/>
<use href="#xfd" x="1060.5" y="3295.5"/>
<use href="#xfd" x="1078.5" y="3295.5"/>
<use href="#xfd" x="1101" y="3292.1"/>
<use href="#xfd" x="1123.4" y="3285.2"/>
<use href="#xfd" x="1145.9" y="3278.3"/>
<use href="#xfd" x="1168.4" y="3269.7"/>
<use href="#xfd" x="1190.8" y="3262.8"/>
<use href="#xfd" x="1213.3" y="3254.2"/>
<use href="#xfd" x="1235.8" y="3244.5"/>
<use href="#xfd" x="1258.2" y="3235.4"/>
<use href="#xfd" x="1280.7" y="3228.7"/>
<use href="#xfd" x="1303.2" y="3220"/>
<use href="#xfd" x="1325.6" y="3211.4"/>
<use href="#xfd" x="1348.1" y="3202.8"/>
<use href="#xfd" x="1370.6" y="3194.2"/>
<use href="#xfd" x="1393" y="3183.9"/>
<use href="#xfd" x="1415.5" y="3174.6"/>
<use href="#xfd" x="1438" y="3166.6"/>
<use href="#xfd" x="1460.4" y="3158.7"/>
<use href="#xfd" x="1482.9" y="3151.1"/>
<use href="#xfd" x="1505.4" y="3143.2"/>
<use href="#xfd" x="1527.8" y="3135.6"/>
<use href="#xfd" x="1550.3" y="3127.7"/>
<use href="#xfd" x="1572.8" y="3120.1"/>
<use href="#xfd" x="1595.2" y="3112.2"/>
<use href="#xfd" x="1617.7" y="3105.6"/>
<use href="#xfd" x="1640.2" y="3099.4"/>
<use href="#xfd" x="1662.6" y="3094.3"/>
<use href="#xfd" x="1685.1" y="3091"/>
<use href="#xfd" x="1707.6" y="3087.6"/>
<use href="#xfd" x="1730" y="3085"/>
<use href="#xfd" x="1752.5" y="3085"/>
<use href="#xfd" x="1775" y="3086.7"/>
<use href="#xfd" x="1797.4" y="3090.1"/>
<use href="#xfd" x="1819.9" y="3095.3"/>
<use href="#xfd" x="1842.4" y="3102.2"/>
<use href="#xfd" x="1864.8" y="3109.8"/>
<use href="#xfd" x="1887.3" y="3117.7"/>
<use href="#xfd" x="1909.8" y="3127"/>
<use href="#xfd" x="1932.2" y="3138.4"/>
<use href="#xfd" x="1954.7" y="3149.4"/>
<use href="#xfd" x="1977.2" y="3162.5"/>
<use href="#xfd" x="1999.6" y="3176.3"/>
<use href="#xfd" x="2022.1" y="3191.8"/>
<use href="#xfd" x="2044.6" y="3208.9"/>
<use href="#xfd" x="2067" y="3227.2"/>
<use href="#xfd" x="2089.5" y="3246.1"/>
<use href="#xfd" x="2112" y="3265.3"/>
<use href="#xfd" x="2134.4" y="3284.6"/>
<use href="#xfd" x="2156.9" y="3303.4"/>
<use href="#xfd" x="2179.4" y="3321.5"/>
<use href="#xfd" x="2201.8" y="3330.8"/>
<use href="#xfd" x="2224.3" y="3339.1"/>
<g fill="none" stroke="#00f" stroke-linejoin="round"><defs><polyline id="p1_7" points="337.1,2386.1 359.6,2418.8 382,2455 404.5,2494.6 427,2534.2 449.4,2574.9 471.9,2618.7 494.4,2657.6 516.8,2697.2 539.3,2737.5 561.8,2778.9 584.2,2815.2 606.7,2852.6 629.2,2890.5 651.6,2928.4 674.1,2962.5 696.6,2994.6 719,3027.3 741.5,3057.3 764,3084.9 786.4,3109.2 808.9,3134.4 831.4,3152.5 853.8,3169.8 876.3,3181.8 898.8,3191.1 921.2,3200.1 943.7,3207.7 966.2,3214.6 988.6,3224.9 1011.1,3237 1033.6,3250.8 1060.5,3266.3 1078.5,3280 1101,3290.4 1123.4,3297.3 1145.9,3299 1168.4,3298.3 1190.8,3295.5 1213.3,3291.4 1235.8,3285.4 1258.2,3277.6 1280.7,3268.3 1303.2,3259.7 1325.6,3251.1 1348.1,3242.4 1370.6,3233.8 1393,3225.2 1415.5,3215.6 1438,3206.3 1460.4,3197.6 1482.9,3189 1505.4,3180.4 1527.8,3172.5 1550.3,3164.9 1572.8,3156.3 1595.2,3147.7 1617.7,3140.1 1640.2,3132.9 1662.6,3125.3 1685.1,3118.1 1707.6,3112.9 1730,3108.4 1752.5,3105.7 1775,3103.9 1797.4,3103.2 1819.9,3103.9 1842.4,3105.7 1864.8,3109.1 1887.3,3114.3 1909.8,3121.2 1932.2,3129.1 1954.7,3137.4 1977.2,3146.3 1999.6,3156.7 2022.1,3167.7 2044.6,3181.5 2067,3195.9 2089.5,3211.3 2112,3229.3 2134.4,3246.1 2156.9,3263 2179.4,3279.1 2201.8,3287.4 2224.3,3294.6"/></defs><use href="#p1_7" stroke-width="5"/>
<use href="#p1_7" transform="translate(0.9 0)" stroke-width="5"/>
<use href="#p1_7" transform="translate(-0.9 0)" stroke-width="5"/>
</g>
<use href="#xod" x="337.1" y="2386.1"/>
<use href="#xod" x="359.6" y="2418.8"/>
<use href="#xod" x="382" y="2455"/>
<use href="#xod" x="404.5" y="2494.6"/>
<use href="#xod" x="427" y="2534.2"/>
<use href="#xod" x="449.4" y="2574.9"/>
<use href="#xod" x="471.9" y="2618.7"/>
<use href="#xod" x="494.4" y="2657.6"/>
<use href="#xod" x="516.8" y="2697.2"/>
<use href="#xod" x="539.3" y="2737.5"/>
<use href="#xod" x="561.8" y="2778.9"/>
<use href="#xod" x="584.2" y="2815.2"/>
<use href="#xod" x="606.7" y="2852.6"/>
<use href="#xod" x="629.2" y="2890.5"/>
<use href="#xod" x="651.6" y="2928.4"/>
<use href="#xod" x="674.1" y="2962.5"/>
<use href="#xod" x="696.6" y="2994.6"/>
<use href="#xod" x="719" y="3027.3"/>
<use href="#xod" x="741.5" y="3057.3"/>
<use href="#xod" x="764" y="3084.9"/>
<use href="#xod" x="786.4" y="3109.2"/>
<use href="#xod" x="808.9" y="3134.4"/>
<use href="#xod" x="831.4" y="3152.5"/>
<use href="#xod" x="853.8" y="3169.8"/>
<use href="#xod" x="876.3" y="3181.8"/>
<use href="#xod" x="898.8" y="3191.1"/>
<use href="#xod" x="921.2" y="3200.1"/>
<use href="#xod" x="943.7" y="3207.7"/>
<use href="#xod" x="966.2" y="3214.6"/>
<use href="#xod" x="988.6" y="3224.9"/>
<use href="#xod" x="1011.1" y="3237"/>
<use href="#xod" x="1033.6" y="3250.8"/>
<use href="#xod" x="1060.5" y="3266.3"/>
<use href="#xod" x="1078.5" y="3280"/>
<use href="#xod" x="1101" y="3290.4"/>
<use href="#xod" x="1123.4" y="3297.3"/>
<use href="#xod" x="1145.9" y="3299"/>
<use href="#xod" x="1168.4" y="3298.3"/>
<use href="#xod" x="1190.8" y="3295.5"/>
<use href="#xod" x="1213.3" y="3291.4"/>
<use href="#xod" x="1235.8" y="3285.4"/>
<use href="#xod" x="1258.2" y="3277.6"/>
<use href="#xod" x="1280.7" y="3268.3"/>
<use href="#xod" x="1303.2" y="3259.7"/>
<use href="#xod" x="1325.6" y="3251.1"/>
<use href="#xod" x="1348.1" y="3242.4"/>
<use href="#xod" x="1370.6" y="3233.8"/>
<use href="#xod" x="1393" y="3225.2"/>
<use href="#xod" x="1415.5" y="3215.6"/>
<use href="#xod" x="1438" y="3206.3"/>
<use href="#xod" x="1460.4" y="3197.6"/>
<use href="#xod" x="1482.9" y="3189"/>
<use href="#xod" x="1505.4" y="3180.4"/>
<use href="#xod" x="1527.8" y="3172.5"/>
<use href="#xod" x="1550.3" y="3164.9"/>
<use href="#xod" x="1572.8" y="3156.3"/>
<use href="#xod" x="1595.2" y="3147.7"/>
<use href="#xod" x="1617.7" y="3140.1"/>
<use href="#xod" x="1640.2" y="3132.9"/>
<use href="#xod" x="1662.6" y="3125.3"/>
<use href="#xod" x="1685.1" y="3118.1"/>
<use href="#xod" x="1707.6" y="3112.9"/>
<use href="#xod" x="1730" y="3108.4"/>
<use href="#xod" x="1752.5" y="3105.7"/>
<use href="#xod" x="1775" y="3103.9"/>
<use href="#xod" x="1797.4" y="3103.2"/>
<use href="#xod" x="1819.9" y="3103.9"/>
<use href="#xod" x="1842.4" y="3105.7"/>
<use href="#xod" x="1864.8" y="3109.1"/>
<use href="#xod" x="1887.3" y="3114.3"/>
<use href="#xod" x="1909.8" y="3121.2"/>
<use href="#xod" x="1932.2" y="3129.1"/>
<use href="#xod" x="1954.7" y="3137.4"/>
<use href="#xod" x="1977.2" y="3146.3"/>
<use href="#xod" x="1999.6" y="3156.7"/>
<use href="#xod" x="2022.1" y="3167.7"/>
<use href="#xod" x="2044.6" y="3181.5"/>
<use href="#xod" x="2067" y="3195.9"/>
<use href="#xod" x="2089.5" y="3211.3"/>
<use href="#xod" x="2112" y="3229.3"/>
<use href="#xod" x="2134.4" y="3246.1"/>
<use href="#xod" x="2156.9" y="3263"/>
<use href="#xod" x="2179.4" y="3279.1"/>
<use href="#xod" x="2201.8" y="3287.4"/>
<use href="#xod" x="2224.3" y="3294.6"/>
</g>
<rect x="337.6" y="2264.2" width="1888.8" height="3" fill="#000"/>
<rect x="2224.3" y="2264.2" width="2.1" height="1531.5" fill="#000"/>
<rect x="334.2" y="2262.2" width="6.8" height="1536.8" fill="#000"/>
<rect x="334.2" y="3792.2" width="1894.1" height="6.8" fill="#000"/>
<rect x="334.2" y="3795.6" width="6.8" height="29.4" fill="#000"/>
<text x="268" y="3932.2" class="tk">10<tspan class="sup supn" dx="-1" dy="-41">-1</tspan></text>
<rect x="415.4" y="3795.6" width="6.8" height="14.9" fill="#000"/>
<rect x="462.8" y="3795.6" width="6.8" height="14.9" fill="#000"/>
<rect x="496.5" y="3795.6" width="6.8" height="14.9" fill="#000"/>
<rect x="522.7" y="3795.6" width="6.8" height="14.9" fill="#000"/>
<rect x="544" y="3795.6" width="6.8" height="14.9" fill="#000"/>
<rect x="562.1" y="3795.6" width="6.8" height="14.9" fill="#000"/>
<rect x="577.7" y="3795.6" width="6.8" height="14.9" fill="#000"/>
<rect x="591.5" y="3795.6" width="6.8" height="14.9" fill="#000"/>
<rect x="603.8" y="3795.6" width="6.8" height="29.4" fill="#000"/>
<text x="547.7" y="3932.2" class="tk">10<tspan class="sup" dx="-1" dy="-41">0</tspan></text>
<rect x="685" y="3795.6" width="6.8" height="14.9" fill="#000"/>
<rect x="732.5" y="3795.6" width="6.8" height="14.9" fill="#000"/>
<rect x="766.1" y="3795.6" width="6.8" height="14.9" fill="#000"/>
<rect x="792.3" y="3795.6" width="6.8" height="14.9" fill="#000"/>
<rect x="813.6" y="3795.6" width="6.8" height="14.9" fill="#000"/>
<rect x="831.7" y="3795.6" width="6.8" height="14.9" fill="#000"/>
<rect x="847.3" y="3795.6" width="6.8" height="14.9" fill="#000"/>
<rect x="861.1" y="3795.6" width="6.8" height="14.9" fill="#000"/>
<rect x="873.4" y="3795.6" width="6.8" height="29.4" fill="#000"/>
<text x="817.3" y="3932.2" class="tk">10<tspan class="sup" dx="-1" dy="-41">1</tspan></text>
<rect x="954.6" y="3795.6" width="6.8" height="14.9" fill="#000"/>
<rect x="1002.1" y="3795.6" width="6.8" height="14.9" fill="#000"/>
<rect x="1035.8" y="3795.6" width="6.8" height="14.9" fill="#000"/>
<rect x="1061.9" y="3795.6" width="6.8" height="14.9" fill="#000"/>
<rect x="1083.2" y="3795.6" width="6.8" height="14.9" fill="#000"/>
<rect x="1101.3" y="3795.6" width="6.8" height="14.9" fill="#000"/>
<rect x="1116.9" y="3795.6" width="6.8" height="14.9" fill="#000"/>
<rect x="1130.7" y="3795.6" width="6.8" height="14.9" fill="#000"/>
<rect x="1143" y="3795.6" width="6.8" height="29.4" fill="#000"/>
<text x="1086.9" y="3932.2" class="tk">10<tspan class="sup" dx="-1" dy="-41">2</tspan></text>
<rect x="1224.2" y="3795.6" width="6.8" height="14.9" fill="#000"/>
<rect x="1271.7" y="3795.6" width="6.8" height="14.9" fill="#000"/>
<rect x="1305.4" y="3795.6" width="6.8" height="14.9" fill="#000"/>
<rect x="1331.5" y="3795.6" width="6.8" height="14.9" fill="#000"/>
<rect x="1352.8" y="3795.6" width="6.8" height="14.9" fill="#000"/>
<rect x="1370.9" y="3795.6" width="6.8" height="14.9" fill="#000"/>
<rect x="1386.5" y="3795.6" width="6.8" height="14.9" fill="#000"/>
<rect x="1400.3" y="3795.6" width="6.8" height="14.9" fill="#000"/>
<rect x="1412.7" y="3795.6" width="6.8" height="29.4" fill="#000"/>
<text x="1356.6" y="3932.2" class="tk">10<tspan class="sup" dx="-1" dy="-41">3</tspan></text>
<rect x="1493.8" y="3795.6" width="6.8" height="14.9" fill="#000"/>
<rect x="1541.3" y="3795.6" width="6.8" height="14.9" fill="#000"/>
<rect x="1575" y="3795.6" width="6.8" height="14.9" fill="#000"/>
<rect x="1601.1" y="3795.6" width="6.8" height="14.9" fill="#000"/>
<rect x="1622.5" y="3795.6" width="6.8" height="14.9" fill="#000"/>
<rect x="1640.5" y="3795.6" width="6.8" height="14.9" fill="#000"/>
<rect x="1656.1" y="3795.6" width="6.8" height="14.9" fill="#000"/>
<rect x="1669.9" y="3795.6" width="6.8" height="14.9" fill="#000"/>
<rect x="1682.3" y="3795.6" width="6.8" height="29.4" fill="#000"/>
<text x="1626.2" y="3932.2" class="tk">10<tspan class="sup" dx="-1" dy="-41">4</tspan></text>
<rect x="1763.4" y="3795.6" width="6.8" height="14.9" fill="#000"/>
<rect x="1810.9" y="3795.6" width="6.8" height="14.9" fill="#000"/>
<rect x="1844.6" y="3795.6" width="6.8" height="14.9" fill="#000"/>
<rect x="1870.7" y="3795.6" width="6.8" height="14.9" fill="#000"/>
<rect x="1892.1" y="3795.6" width="6.8" height="14.9" fill="#000"/>
<rect x="1910.1" y="3795.6" width="6.8" height="14.9" fill="#000"/>
<rect x="1925.8" y="3795.6" width="6.8" height="14.9" fill="#000"/>
<rect x="1939.5" y="3795.6" width="6.8" height="14.9" fill="#000"/>
<rect x="1951.9" y="3795.6" width="6.8" height="29.4" fill="#000"/>
<text x="1895.8" y="3932.2" class="tk">10<tspan class="sup" dx="-1" dy="-41">5</tspan></text>
<rect x="2033" y="3795.6" width="6.8" height="14.9" fill="#000"/>
<rect x="2080.5" y="3795.6" width="6.8" height="14.9" fill="#000"/>
<rect x="2114.2" y="3795.6" width="6.8" height="14.9" fill="#000"/>
<rect x="2140.3" y="3795.6" width="6.8" height="14.9" fill="#000"/>
<rect x="2161.7" y="3795.6" width="6.8" height="14.9" fill="#000"/>
<rect x="2179.7" y="3795.6" width="6.8" height="14.9" fill="#000"/>
<rect x="2195.4" y="3795.6" width="6.8" height="14.9" fill="#000"/>
<rect x="2209.2" y="3795.6" width="6.8" height="14.9" fill="#000"/>
<rect x="2221.5" y="3795.6" width="6.8" height="29.4" fill="#000"/>
<text x="2165.4" y="3932.2" class="tk">10<tspan class="sup" dx="-1" dy="-41">6</tspan></text>
<rect x="308.9" y="3792.2" width="28.7" height="6.8" fill="#000"/>
<text x="149.8" y="3831.9" class="tk">10<tspan class="sup supn" dx="-1" dy="-41">-3</tspan></text>
<rect x="322.7" y="3605.6" width="14.9" height="6.8" fill="#000"/>
<rect x="322.7" y="3496.8" width="14.9" height="6.8" fill="#000"/>
<rect x="322.7" y="3419.6" width="14.9" height="6.8" fill="#000"/>
<rect x="322.7" y="3359.8" width="14.9" height="6.8" fill="#000"/>
<rect x="322.7" y="3310.9" width="14.9" height="6.8" fill="#000"/>
<rect x="322.7" y="3269.5" width="14.9" height="6.8" fill="#000"/>
<rect x="322.7" y="3233.7" width="14.9" height="6.8" fill="#000"/>
<rect x="322.7" y="3202.1" width="14.9" height="6.8" fill="#000"/>
<rect x="308.9" y="3173.8" width="28.7" height="6.8" fill="#000"/>
<text x="149.8" y="3214.2" class="tk">10<tspan class="sup supn" dx="-1" dy="-41">-2</tspan></text>
<rect x="322.7" y="2987.9" width="14.9" height="6.8" fill="#000"/>
<rect x="322.7" y="2879.1" width="14.9" height="6.8" fill="#000"/>
<rect x="322.7" y="2802" width="14.9" height="6.8" fill="#000"/>
<rect x="322.7" y="2742.1" width="14.9" height="6.8" fill="#000"/>
<rect x="322.7" y="2693.2" width="14.9" height="6.8" fill="#000"/>
<rect x="322.7" y="2651.9" width="14.9" height="6.8" fill="#000"/>
<rect x="322.7" y="2616" width="14.9" height="6.8" fill="#000"/>
<rect x="322.7" y="2584.4" width="14.9" height="6.8" fill="#000"/>
<rect x="308.9" y="2556.2" width="28.7" height="6.8" fill="#000"/>
<text x="149.8" y="2596.6" class="tk">10<tspan class="sup supn" dx="-1" dy="-41">-1</tspan></text>
<rect x="322.7" y="2370.2" width="14.9" height="6.8" fill="#000"/>
<rect x="322.7" y="2262.2" width="14.9" height="6.8" fill="#000"/>
<text transform="translate(101.5 3090.5) rotate(-90)" class="yt">tan<tspan class="dl">δ</tspan></text>
<text transform="translate(1171 4056.6) scale(1.14 0.888)" class="xt fi">f </text><text x="1232.2" y="4055.8" class="xt">(Hz)</text>
<text x="507" y="2398" class="pl" style="font-size:97px">(b)</text>
<text transform="translate(807.1 2413.4) scale(0.9324 1)" class="tt" style="font-size:93px">PMMA-perylene dye</text>
<rect x="1811.2" y="2357.1" width="160.7" height="5" fill="#000"/>
<use href="#cfb" x="1891.5" y="2359.6"/>
<text x="1985.8" y="2384.9" class="lg" style="font-size:72px">303 K</text>
<rect x="1811.2" y="2444.8" width="160.7" height="5" fill="#000"/>
<use href="#cob" x="1891.5" y="2447.3"/>
<text x="1985.8" y="2472.6" class="lg" style="font-size:72px">313 K</text>
<rect x="1811.2" y="2532.4" width="160.7" height="5" fill="#f00"/>
<use href="#sfb" x="1891.5" y="2534.9"/>
<text x="1985.8" y="2560.2" class="lg" style="font-size:72px">323 K</text>
<rect x="1811.2" y="2620.1" width="160.7" height="5" fill="#f00"/>
<use href="#sob" x="1891.5" y="2622.6"/>
<text x="1985.8" y="2647.9" class="lg" style="font-size:72px">333 K</text>
<rect x="1811.2" y="2707.8" width="160.7" height="5" fill="#0f0"/>
<use href="#tfb" x="1891.5" y="2710.3"/>
<text x="1985.8" y="2735.6" class="lg" style="font-size:72px">343 K</text>
<rect x="1811.2" y="2795.4" width="160.7" height="5" fill="#0f0"/>
<use href="#tob" x="1891.5" y="2797.9"/>
<text x="1985.8" y="2823.2" class="lg" style="font-size:72px">353 K</text>
<rect x="1811.2" y="2883.1" width="160.7" height="5" fill="#00f"/>
<use href="#xfb" x="1891.5" y="2885.6"/>
<text x="1985.8" y="2910.9" class="lg" style="font-size:72px">363 K</text>
<rect x="1811.2" y="2970.8" width="160.7" height="5" fill="#00f"/>
<use href="#xob" x="1891.5" y="2973.3"/>
<text x="1985.8" y="2998.6" class="lg" style="font-size:72px">373 K</text>
</svg>
</body></html>
